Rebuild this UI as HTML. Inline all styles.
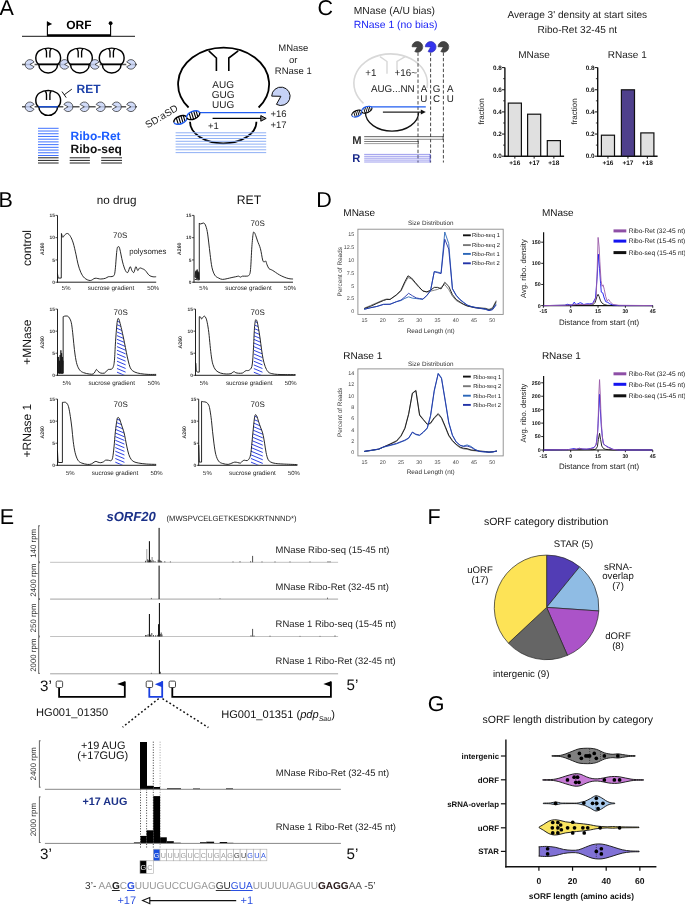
<!DOCTYPE html>
<html><head><meta charset="utf-8"><style>
html,body{margin:0;padding:0;background:#fff;overflow:hidden;width:685px;height:906px;}
svg{display:block;font-family:"Liberation Sans", sans-serif;will-change:transform;text-rendering:geometricPrecision;}
</style></head><body>
<svg width="685" height="906" viewBox="0 0 685 906">
<defs>
<pattern id="hatch" patternUnits="userSpaceOnUse" width="6" height="3.3" patternTransform="rotate(0)">
<line x1="0" y1="0" x2="6" y2="3.3" stroke="#2040e0" stroke-width="0.8"/>
</pattern>
</defs>
<text x="-0.60" y="15.20" font-size="21.5" >A</text>
<line x1="22.00" y1="36.40" x2="135.00" y2="36.40" stroke="#444" stroke-width="1.4" />
<line x1="47.20" y1="35.30" x2="110.80" y2="35.30" stroke="#000" stroke-width="2.2" />
<line x1="47.40" y1="36.00" x2="47.40" y2="21.50" stroke="#000" stroke-width="1.1" />
<path d="M47.4,21.5 L52.2,24 L47.4,26.3 Z" stroke="none" stroke-width="0" fill="#000" />
<line x1="110.60" y1="36.00" x2="110.60" y2="23.00" stroke="#000" stroke-width="1.1" />
<circle cx="110.60" cy="23.20" r="1.90" fill="#000" stroke="none" stroke-width="1" />
<text x="78.80" y="29.20" font-size="12" text-anchor="middle" font-weight="bold" >ORF</text>
<line x1="22.00" y1="64.40" x2="137.00" y2="64.40" stroke="#555" stroke-width="1.5" />
<path d="M29.90,64.40 L34.10,62.07 A4.8,4.8 0 0 1 34.10,66.73 Z" stroke="none" stroke-width="0" fill="#fff" />
<path d="M29.90,64.40 L34.10,62.07 A4.8,4.8 0 1 0 34.10,66.73 Z" stroke="#222" stroke-width="0.7" fill="#c6d2f6" fill-opacity="0.8"/>
<path d="M38.80,64.40 C36.60,63.20 35.80,60.90 35.80,57.80 C35.80,51.50 41.40,48.10 48.20,48.10 C55.00,48.10 60.60,51.50 60.60,57.80 C60.60,60.90 59.80,63.20 57.60,64.40 Z" stroke="#000" stroke-width="1.45" fill="#fff" />
<path d="M38.80,64.40 A9.4,8.6 0 0 0 57.60,64.40 Z" stroke="#000" stroke-width="1.45" fill="#fff" />
<line x1="38.60" y1="64.40" x2="57.80" y2="64.40" stroke="#000" stroke-width="1.3" />
<path d="M45.20,48.80 Q46.50,50.00 46.50,52.00 L46.50,57.60" stroke="#000" stroke-width="1.35" fill="none" />
<path d="M51.20,48.80 Q49.90,50.00 49.90,52.00 L49.90,57.60" stroke="#000" stroke-width="1.35" fill="none" />
<path d="M64.60,64.40 L68.80,62.07 A4.8,4.8 0 0 1 68.80,66.73 Z" stroke="none" stroke-width="0" fill="#fff" />
<path d="M64.60,64.40 L68.80,62.07 A4.8,4.8 0 1 0 68.80,66.73 Z" stroke="#222" stroke-width="0.7" fill="#c6d2f6" fill-opacity="0.8"/>
<path d="M70.50,64.40 C68.30,63.20 67.50,60.90 67.50,57.80 C67.50,51.50 73.10,48.10 79.90,48.10 C86.70,48.10 92.30,51.50 92.30,57.80 C92.30,60.90 91.50,63.20 89.30,64.40 Z" stroke="#000" stroke-width="1.45" fill="#fff" />
<path d="M70.50,64.40 A9.4,8.6 0 0 0 89.30,64.40 Z" stroke="#000" stroke-width="1.45" fill="#fff" />
<line x1="70.30" y1="64.40" x2="89.50" y2="64.40" stroke="#000" stroke-width="1.3" />
<path d="M76.90,48.80 Q78.20,50.00 78.20,52.00 L78.20,57.60" stroke="#000" stroke-width="1.35" fill="none" />
<path d="M82.90,48.80 Q81.60,50.00 81.60,52.00 L81.60,57.60" stroke="#000" stroke-width="1.35" fill="none" />
<path d="M95.00,64.40 L99.20,62.07 A4.8,4.8 0 0 1 99.20,66.73 Z" stroke="none" stroke-width="0" fill="#fff" />
<path d="M95.00,64.40 L99.20,62.07 A4.8,4.8 0 1 0 99.20,66.73 Z" stroke="#222" stroke-width="0.7" fill="#c6d2f6" fill-opacity="0.8"/>
<path d="M102.30,64.40 C100.10,63.20 99.30,60.90 99.30,57.80 C99.30,51.50 104.90,48.10 111.70,48.10 C118.50,48.10 124.10,51.50 124.10,57.80 C124.10,60.90 123.30,63.20 121.10,64.40 Z" stroke="#000" stroke-width="1.45" fill="#fff" />
<path d="M102.30,64.40 A9.4,8.6 0 0 0 121.10,64.40 Z" stroke="#000" stroke-width="1.45" fill="#fff" />
<line x1="102.10" y1="64.40" x2="121.30" y2="64.40" stroke="#000" stroke-width="1.3" />
<path d="M108.70,48.80 Q110.00,50.00 110.00,52.00 L110.00,57.60" stroke="#000" stroke-width="1.35" fill="none" />
<path d="M114.70,48.80 Q113.40,50.00 113.40,52.00 L113.40,57.60" stroke="#000" stroke-width="1.35" fill="none" />
<path d="M130.90,64.40 L126.70,66.73 A4.8,4.8 0 0 1 126.70,62.07 Z" stroke="none" stroke-width="0" fill="#fff" />
<path d="M130.90,64.40 L126.70,66.73 A4.8,4.8 0 1 0 126.70,62.07 Z" stroke="#222" stroke-width="0.7" fill="#c6d2f6" fill-opacity="0.8"/>
<line x1="22.00" y1="106.80" x2="137.00" y2="106.80" stroke="#555" stroke-width="1.5" />
<path d="M29.90,106.80 L34.10,104.47 A4.8,4.8 0 0 1 34.10,109.13 Z" stroke="none" stroke-width="0" fill="#fff" />
<path d="M29.90,106.80 L34.10,104.47 A4.8,4.8 0 1 0 34.10,109.13 Z" stroke="#222" stroke-width="0.7" fill="#c6d2f6" fill-opacity="0.8"/>
<path d="M38.80,106.80 C36.60,105.60 35.80,103.30 35.80,100.20 C35.80,93.90 41.40,90.50 48.20,90.50 C55.00,90.50 60.60,93.90 60.60,100.20 C60.60,103.30 59.80,105.60 57.60,106.80 Z" stroke="#000" stroke-width="1.45" fill="#fff" />
<path d="M38.80,106.80 A9.4,8.6 0 0 0 57.60,106.80 Z" stroke="#000" stroke-width="1.45" fill="#fff" />
<line x1="38.60" y1="106.80" x2="57.80" y2="106.80" stroke="#1f5cf0" stroke-width="1.3" />
<path d="M45.20,91.20 Q46.50,92.40 46.50,94.40 L46.50,100.00" stroke="#000" stroke-width="1.35" fill="none" />
<path d="M51.20,91.20 Q49.90,92.40 49.90,94.40 L49.90,100.00" stroke="#000" stroke-width="1.35" fill="none" />
<path d="M68.10,106.80 L63.90,109.13 A4.8,4.8 0 0 1 63.90,104.47 Z" stroke="none" stroke-width="0" fill="#fff" />
<path d="M68.10,106.80 L63.90,109.13 A4.8,4.8 0 1 0 63.90,104.47 Z" stroke="#222" stroke-width="0.7" fill="#c6d2f6" fill-opacity="0.8"/>
<path d="M84.30,106.80 L80.10,109.13 A4.8,4.8 0 0 1 80.10,104.47 Z" stroke="none" stroke-width="0" fill="#fff" />
<path d="M84.30,106.80 L80.10,109.13 A4.8,4.8 0 1 0 80.10,104.47 Z" stroke="#222" stroke-width="0.7" fill="#c6d2f6" fill-opacity="0.8"/>
<path d="M100.40,106.80 L96.20,109.13 A4.8,4.8 0 0 1 96.20,104.47 Z" stroke="none" stroke-width="0" fill="#fff" />
<path d="M100.40,106.80 L96.20,109.13 A4.8,4.8 0 1 0 96.20,104.47 Z" stroke="#222" stroke-width="0.7" fill="#c6d2f6" fill-opacity="0.8"/>
<path d="M116.50,106.80 L112.30,109.13 A4.8,4.8 0 0 1 112.30,104.47 Z" stroke="none" stroke-width="0" fill="#fff" />
<path d="M116.50,106.80 L112.30,109.13 A4.8,4.8 0 1 0 112.30,104.47 Z" stroke="#222" stroke-width="0.7" fill="#c6d2f6" fill-opacity="0.8"/>
<path d="M130.90,106.80 L126.70,109.13 A4.8,4.8 0 0 1 126.70,104.47 Z" stroke="none" stroke-width="0" fill="#fff" />
<path d="M130.90,106.80 L126.70,109.13 A4.8,4.8 0 1 0 126.70,104.47 Z" stroke="#222" stroke-width="0.7" fill="#c6d2f6" fill-opacity="0.8"/>
<line x1="64.20" y1="94.80" x2="71.80" y2="89.20" stroke="#000" stroke-width="0.9" />
<line x1="62.00" y1="91.60" x2="66.20" y2="97.60" stroke="#000" stroke-width="0.9" />
<text x="76.60" y="92.90" font-size="12" font-weight="bold" fill="#1b3fa8" >RET</text>
<line x1="38.00" y1="128.30" x2="58.60" y2="128.30" stroke="#2a62ff" stroke-width="0.9" />
<line x1="38.00" y1="131.02" x2="58.60" y2="131.02" stroke="#2a62ff" stroke-width="0.9" />
<line x1="38.00" y1="133.74" x2="58.60" y2="133.74" stroke="#2a62ff" stroke-width="0.9" />
<line x1="38.00" y1="136.46" x2="58.60" y2="136.46" stroke="#2a62ff" stroke-width="0.9" />
<line x1="38.00" y1="139.18" x2="58.60" y2="139.18" stroke="#2a62ff" stroke-width="0.9" />
<line x1="38.00" y1="141.90" x2="58.60" y2="141.90" stroke="#2a62ff" stroke-width="0.9" />
<line x1="38.00" y1="144.62" x2="58.60" y2="144.62" stroke="#2a62ff" stroke-width="0.9" />
<line x1="38.00" y1="147.34" x2="58.60" y2="147.34" stroke="#2a62ff" stroke-width="0.9" />
<line x1="38.00" y1="150.06" x2="58.60" y2="150.06" stroke="#2a62ff" stroke-width="0.9" />
<line x1="38.00" y1="152.78" x2="58.60" y2="152.78" stroke="#2a62ff" stroke-width="0.9" />
<line x1="38.00" y1="155.50" x2="58.60" y2="155.50" stroke="#2a62ff" stroke-width="0.9" />
<line x1="38.00" y1="157.80" x2="58.60" y2="157.80" stroke="#222" stroke-width="1.0" />
<line x1="69.70" y1="157.80" x2="89.90" y2="157.80" stroke="#222" stroke-width="1.0" />
<line x1="101.20" y1="157.80" x2="122.00" y2="157.80" stroke="#222" stroke-width="1.0" />
<line x1="38.00" y1="160.40" x2="58.60" y2="160.40" stroke="#222" stroke-width="1.0" />
<line x1="69.70" y1="160.40" x2="89.90" y2="160.40" stroke="#222" stroke-width="1.0" />
<line x1="101.20" y1="160.40" x2="122.00" y2="160.40" stroke="#222" stroke-width="1.0" />
<line x1="38.00" y1="163.00" x2="58.60" y2="163.00" stroke="#222" stroke-width="1.0" />
<line x1="69.70" y1="163.00" x2="89.90" y2="163.00" stroke="#222" stroke-width="1.0" />
<line x1="101.20" y1="163.00" x2="122.00" y2="163.00" stroke="#222" stroke-width="1.0" />
<text x="70.60" y="139.80" font-size="12" font-weight="bold" fill="#1a5cff" >Ribo-Ret</text>
<text x="70.60" y="152.90" font-size="12" font-weight="bold" fill="#111" >Ribo-seq</text>
<path d="M188.6,107.5 A45.5,36.5 0 1 1 258.6,107.5" stroke="#000" stroke-width="1.8" fill="none" />
<path d="M208.8,50.8 L216.4,58 L216.4,71" stroke="#000" stroke-width="1.6" fill="none" />
<path d="M238.2,50.8 L228.8,58 L228.8,71" stroke="#000" stroke-width="1.6" fill="none" />
<text x="223.20" y="87.60" font-size="10" text-anchor="middle" fill="#222" >AUG</text>
<text x="223.20" y="97.90" font-size="10" text-anchor="middle" fill="#222" >GUG</text>
<text x="223.20" y="108.20" font-size="10" text-anchor="middle" fill="#222" >UUG</text>
<path d="M190,121.8 A33.2,21.5 0 0 0 256.4,121.8" stroke="#000" stroke-width="1.8" fill="none" />
<line x1="175.60" y1="132.80" x2="266.20" y2="132.80" stroke="#8fb0f5" stroke-width="1.0" />
<line x1="175.60" y1="135.63" x2="266.20" y2="135.63" stroke="#8fb0f5" stroke-width="1.0" />
<line x1="175.60" y1="138.46" x2="266.20" y2="138.46" stroke="#8fb0f5" stroke-width="1.0" />
<line x1="175.60" y1="141.29" x2="266.20" y2="141.29" stroke="#8fb0f5" stroke-width="1.0" />
<line x1="175.60" y1="144.12" x2="266.20" y2="144.12" stroke="#8fb0f5" stroke-width="1.0" />
<line x1="175.60" y1="146.95" x2="266.20" y2="146.95" stroke="#8fb0f5" stroke-width="1.0" />
<line x1="175.60" y1="149.78" x2="266.20" y2="149.78" stroke="#8fb0f5" stroke-width="1.0" />
<line x1="175.60" y1="152.61" x2="266.20" y2="152.61" stroke="#8fb0f5" stroke-width="1.0" />
<line x1="197.00" y1="112.60" x2="266.00" y2="112.60" stroke="#1f5cf0" stroke-width="1.4" />
<g transform="rotate(-22 180.4 119.9)"><ellipse cx="180.4" cy="119.9" rx="6.9" ry="3.9" fill="#fff" stroke="none"/><line x1="177.4" y1="116.41576599832189" x2="176.8" y2="123.38423400167812" stroke="#000" stroke-width="1.1"/><line x1="179.9" y1="116.01477278036353" x2="179.3" y2="123.78522721963648" stroke="#000" stroke-width="1.1"/><line x1="182.4" y1="116.15077197611998" x2="181.8" y2="123.64922802388003" stroke="#000" stroke-width="1.1"/><line x1="184.70000000000002" y1="116.80572514763091" x2="184.10000000000002" y2="122.9942748523691" stroke="#000" stroke-width="1.1"/><path d="M173.5,119.9 A6.9,3.9 0 0 1 187.3,119.9" fill="none" stroke="#000" stroke-width="1.4"/><path d="M173.5,119.9 A6.9,3.9 0 0 0 187.3,119.9" fill="none" stroke="#1f5cf0" stroke-width="1.4"/></g>
<g transform="rotate(-22 193.2 115.2)"><ellipse cx="193.2" cy="115.2" rx="6.9" ry="3.9" fill="#fff" stroke="none"/><line x1="190.2" y1="111.71576599832188" x2="189.6" y2="118.68423400167812" stroke="#000" stroke-width="1.1"/><line x1="192.7" y1="111.31477278036353" x2="192.1" y2="119.08522721963648" stroke="#000" stroke-width="1.1"/><line x1="195.2" y1="111.45077197611998" x2="194.6" y2="118.94922802388002" stroke="#000" stroke-width="1.1"/><line x1="197.5" y1="112.1057251476309" x2="196.9" y2="118.2942748523691" stroke="#000" stroke-width="1.1"/><path d="M186.29999999999998,115.2 A6.9,3.9 0 0 1 200.1,115.2" fill="none" stroke="#1f5cf0" stroke-width="1.4"/><path d="M186.29999999999998,115.2 A6.9,3.9 0 0 0 200.1,115.2" fill="none" stroke="#000" stroke-width="1.4"/></g>
<text x="178.80" y="110.00" font-size="10" text-anchor="end" fill="#222" transform="rotate(-31 178.80 110.00)" >SD:aSD</text>
<line x1="212.60" y1="118.40" x2="262.00" y2="118.40" stroke="#000" stroke-width="1.1" />
<path d="M260.8,115.6 L266.2,118.4 L260.8,121.2 Z" stroke="#000" stroke-width="1.0" fill="#888" />
<text x="208.00" y="128.50" font-size="9.5" fill="#222" >+1</text>
<text x="270.50" y="116.90" font-size="9.5" fill="#222" >+16</text>
<text x="270.50" y="127.90" font-size="9.5" fill="#222" >+17</text>
<text x="293.30" y="51.00" font-size="9.5" text-anchor="middle" fill="#222" >MNase</text>
<text x="293.30" y="62.80" font-size="9.5" text-anchor="middle" fill="#222" >or</text>
<text x="293.30" y="73.60" font-size="9.5" text-anchor="middle" fill="#222" >RNase 1</text>
<path d="M280.90,96.30 L276.44,104.35 A9.2,9.2 0 1 0 271.70,96.14 Z" stroke="#111" stroke-width="1.0" fill="#c6d2f6" />
<text x="-1.40" y="206.70" font-size="21.5" >B</text>
<text x="116.60" y="203.90" font-size="11.7" text-anchor="middle" fill="#111" >no drug</text>
<text x="249.00" y="203.80" font-size="12.2" text-anchor="middle" fill="#111" >RET</text>
<text x="31.00" y="248.00" font-size="12" text-anchor="middle" fill="#111" transform="rotate(-90 31.00 248.00)" >control</text>
<text x="31.00" y="342.20" font-size="12" text-anchor="middle" fill="#111" transform="rotate(-90 31.00 342.20)" >+MNase</text>
<text x="31.00" y="430.60" font-size="12" text-anchor="middle" fill="#111" transform="rotate(-90 31.00 430.60)" >+RNase 1</text>
<line x1="57.50" y1="215.40" x2="57.50" y2="282.70" stroke="#222" stroke-width="1.0" />
<line x1="57.00" y1="282.20" x2="156.20" y2="282.20" stroke="#222" stroke-width="1.0" />
<line x1="55.50" y1="215.40" x2="57.50" y2="215.40" stroke="#222" stroke-width="0.8" />
<text x="54.90" y="217.10" font-size="4.8" text-anchor="end" font-weight="bold" fill="#333" >15</text>
<line x1="55.50" y1="237.67" x2="57.50" y2="237.67" stroke="#222" stroke-width="0.8" />
<text x="54.90" y="239.37" font-size="4.8" text-anchor="end" font-weight="bold" fill="#333" >10</text>
<line x1="55.50" y1="259.93" x2="57.50" y2="259.93" stroke="#222" stroke-width="0.8" />
<text x="54.90" y="261.63" font-size="4.8" text-anchor="end" font-weight="bold" fill="#333" >5</text>
<line x1="55.50" y1="282.20" x2="57.50" y2="282.20" stroke="#222" stroke-width="0.8" />
<text x="54.90" y="283.90" font-size="4.8" text-anchor="end" font-weight="bold" fill="#333" >0</text>
<text x="44.50" y="248.80" font-size="5.2" text-anchor="middle" font-weight="bold" fill="#333" transform="rotate(-90 44.50 248.80)" >A260</text>
<path d="M57.46,273.70 L58.22,278.07 L61.26,278.07 L61.45,233.47  L61.45,233.47 C61.67,234.10 62.24,237.01 62.77,237.26 C63.31,237.52 63.88,235.62 64.67,234.99 C65.46,234.35 66.57,233.25 67.52,233.47 C68.47,233.69 69.42,234.73 70.37,236.32 C71.32,237.90 72.26,239.89 73.21,242.96 C74.16,246.03 75.27,251.25 76.06,254.72 C76.85,258.20 77.17,260.89 77.96,263.83 C78.75,266.78 79.70,270.00 80.80,272.38 C81.91,274.75 83.02,276.71 84.60,278.07 C86.18,279.43 88.55,280.50 90.29,280.54 C92.03,280.57 93.30,278.51 95.04,278.26 C96.78,278.01 98.99,279.02 100.73,279.02 C102.47,279.02 104.21,278.64 105.48,278.26 C106.74,277.88 107.06,277.09 108.32,276.74 C109.59,276.39 111.96,276.99 113.07,276.17 C114.18,275.35 114.33,276.08 114.97,271.81 C115.60,267.54 116.33,254.72 116.86,250.55 C117.40,246.37 117.72,247.07 118.19,246.75 C118.67,246.44 118.98,246.12 119.71,248.65 C120.44,251.18 121.61,258.30 122.56,261.94 C123.51,265.57 124.52,268.74 125.41,270.48 C126.29,272.22 127.08,273.01 127.87,272.38 C128.66,271.74 129.45,266.93 130.15,266.68 C130.85,266.43 131.42,269.91 132.05,270.86 C132.68,271.81 133.31,273.07 133.95,272.38 C134.58,271.68 135.21,267.00 135.84,266.68 C136.48,266.37 137.11,270.26 137.74,270.48 C138.37,270.70 138.85,268.29 139.64,268.01 C140.43,267.73 141.54,268.36 142.49,268.77 C143.44,269.18 144.23,269.40 145.33,270.48 C146.44,271.55 147.86,274.18 149.13,275.22 C150.39,276.27 151.75,276.49 152.92,276.74 C154.10,276.99 155.61,276.74 156.15,276.74" stroke="#111" stroke-width="0.9" fill="none" />
<text x="113.00" y="238.20" font-size="8" fill="#222" >70S</text>
<text x="61.80" y="290.40" font-size="6.0" fill="#222" >5%</text>
<text x="87.80" y="290.40" font-size="6.3" fill="#222" >sucrose gradient</text>
<text x="147.20" y="290.40" font-size="6.0" fill="#222" >50%</text>
<text x="129.20" y="254.00" font-size="7.8" fill="#222" >polysomes</text>
<line x1="194.00" y1="215.40" x2="194.00" y2="282.70" stroke="#222" stroke-width="1.0" />
<line x1="193.50" y1="282.20" x2="293.00" y2="282.20" stroke="#222" stroke-width="1.0" />
<line x1="192.00" y1="215.40" x2="194.00" y2="215.40" stroke="#222" stroke-width="0.8" />
<text x="191.40" y="217.10" font-size="4.8" text-anchor="end" font-weight="bold" fill="#333" >15</text>
<line x1="192.00" y1="237.67" x2="194.00" y2="237.67" stroke="#222" stroke-width="0.8" />
<text x="191.40" y="239.37" font-size="4.8" text-anchor="end" font-weight="bold" fill="#333" >10</text>
<line x1="192.00" y1="259.93" x2="194.00" y2="259.93" stroke="#222" stroke-width="0.8" />
<text x="191.40" y="261.63" font-size="4.8" text-anchor="end" font-weight="bold" fill="#333" >5</text>
<line x1="192.00" y1="282.20" x2="194.00" y2="282.20" stroke="#222" stroke-width="0.8" />
<text x="191.40" y="283.90" font-size="4.8" text-anchor="end" font-weight="bold" fill="#333" >0</text>
<text x="181.00" y="248.80" font-size="5.2" text-anchor="middle" font-weight="bold" fill="#333" transform="rotate(-90 181.00 248.80)" >A260</text>
<path d="M194.74,279.40 L199.29,279.97 L199.29,223.03  L199.29,223.03 C199.51,223.19 199.93,223.98 200.62,223.98 C201.32,223.98 202.68,222.87 203.47,223.03 C204.26,223.19 204.73,223.50 205.37,224.93 C206.00,226.35 206.69,228.57 207.26,231.57 C207.83,234.58 208.31,239.16 208.78,242.96 C209.26,246.75 209.57,250.23 210.11,254.35 C210.65,258.46 211.22,264.15 212.01,267.63 C212.80,271.11 213.75,273.48 214.86,275.22 C215.96,276.96 217.39,277.37 218.65,278.07 C219.92,278.76 221.02,279.30 222.45,279.40 C223.87,279.49 225.61,278.95 227.19,278.64 C228.77,278.32 230.51,277.82 231.94,277.50 C233.36,277.18 234.63,276.96 235.73,276.74 C236.84,276.52 237.79,276.11 238.58,276.17 C239.37,276.23 239.84,277.12 240.48,277.12 C241.11,277.12 241.43,276.33 242.38,276.17 C243.32,276.01 245.06,276.33 246.17,276.17 C247.28,276.01 248.29,276.33 249.02,275.22 C249.75,274.11 250.06,274.27 250.54,269.53 C251.01,264.78 251.42,252.76 251.86,246.75 C252.31,240.74 252.78,235.84 253.19,233.47 C253.60,231.10 253.92,232.20 254.33,232.52 C254.74,232.84 255.12,233.94 255.66,235.37 C256.20,236.79 256.77,238.85 257.56,241.06 C258.35,243.27 259.55,245.49 260.41,248.65 C261.26,251.81 262.05,257.82 262.68,260.04 C263.32,262.25 263.69,261.78 264.20,261.94 C264.71,262.09 265.24,260.51 265.72,260.99 C266.19,261.46 266.51,263.52 267.05,264.78 C267.59,266.05 268.31,267.79 268.95,268.58 C269.58,269.37 270.21,269.21 270.84,269.53 C271.48,269.84 271.95,270.00 272.74,270.48 C273.53,270.95 274.48,271.65 275.59,272.38 C276.70,273.10 277.96,274.05 279.38,274.84 C280.81,275.63 282.55,276.49 284.13,277.12 C285.71,277.75 287.39,278.32 288.87,278.64 C290.36,278.95 292.35,278.95 293.05,279.02" stroke="#111" stroke-width="0.9" fill="none" />
<path d="M194.93,277.12 L195.50,271.43 L195.88,278.07 L196.26,270.48 L196.83,279.02 L197.21,269.53 L197.58,278.64 L197.96,271.43 L198.34,279.40 L198.72,272.38 L199.10,279.40" stroke="#111" stroke-width="0.8" fill="none" />
<text x="250.50" y="226.30" font-size="8" fill="#222" >70S</text>
<text x="199.30" y="290.40" font-size="6.0" fill="#222" >5%</text>
<text x="225.30" y="290.40" font-size="6.3" fill="#222" >sucrose gradient</text>
<text x="284.10" y="290.40" font-size="6.0" fill="#222" >50%</text>
<line x1="57.50" y1="309.10" x2="57.50" y2="375.80" stroke="#222" stroke-width="1.0" />
<line x1="57.00" y1="375.30" x2="156.20" y2="375.30" stroke="#222" stroke-width="1.0" />
<line x1="55.50" y1="309.10" x2="57.50" y2="309.10" stroke="#222" stroke-width="0.8" />
<text x="54.90" y="310.80" font-size="4.8" text-anchor="end" font-weight="bold" fill="#333" >15</text>
<line x1="55.50" y1="331.17" x2="57.50" y2="331.17" stroke="#222" stroke-width="0.8" />
<text x="54.90" y="332.87" font-size="4.8" text-anchor="end" font-weight="bold" fill="#333" >10</text>
<line x1="55.50" y1="353.23" x2="57.50" y2="353.23" stroke="#222" stroke-width="0.8" />
<text x="54.90" y="354.93" font-size="4.8" text-anchor="end" font-weight="bold" fill="#333" >5</text>
<line x1="55.50" y1="375.30" x2="57.50" y2="375.30" stroke="#222" stroke-width="0.8" />
<text x="54.90" y="377.00" font-size="4.8" text-anchor="end" font-weight="bold" fill="#333" >0</text>
<text x="44.50" y="342.20" font-size="5.2" text-anchor="middle" font-weight="bold" fill="#333" transform="rotate(-90 44.50 342.20)" >A260</text>
<clipPath id="clip40_300"><path d="M57.46,356.94 L57.84,373.07 L63.15,373.07 L63.15,316.70  L63.15,316.70 C63.41,316.61 63.95,316.23 64.67,316.13 C65.40,316.04 66.73,315.82 67.52,316.13 C68.31,316.45 68.78,316.92 69.42,318.03 C70.05,319.14 70.78,320.40 71.32,322.77 C71.85,325.15 72.23,328.78 72.64,332.26 C73.05,335.74 73.37,339.86 73.78,343.65 C74.19,347.45 74.57,351.56 75.11,355.04 C75.65,358.52 76.22,362.00 77.01,364.53 C77.80,367.06 78.75,368.86 79.86,370.22 C80.96,371.58 82.07,372.06 83.65,372.69 C85.23,373.32 87.76,373.80 89.35,374.02 C90.93,374.24 92.19,374.40 93.14,374.02 C94.09,373.64 94.50,372.50 95.04,371.74 C95.58,370.98 95.89,369.56 96.37,369.46 C96.84,369.37 97.16,370.57 97.89,371.17 C98.61,371.77 99.63,372.75 100.73,373.07 C101.84,373.39 103.58,373.39 104.53,373.07 C105.48,372.75 105.79,371.77 106.43,371.17 C107.06,370.57 107.53,369.78 108.32,369.46 C109.11,369.15 110.38,369.62 111.17,369.27 C111.96,368.93 112.53,368.80 113.07,367.38 C113.61,365.95 113.99,365.00 114.40,360.73 C114.81,356.46 115.12,347.76 115.54,341.75 C115.95,335.74 116.49,328.47 116.86,324.67 C117.24,320.88 117.50,319.93 117.81,318.98 C118.13,318.03 118.45,318.50 118.76,318.98 C119.08,319.45 119.24,320.09 119.71,321.83 C120.19,323.57 120.98,326.73 121.61,329.42 C122.24,332.11 122.87,334.95 123.51,337.96 C124.14,340.96 124.77,344.28 125.41,347.45 C126.04,350.61 126.67,354.09 127.30,356.94 C127.94,359.78 128.57,362.47 129.20,364.53 C129.83,366.58 130.15,368.01 131.10,369.27 C132.05,370.54 133.31,371.39 134.89,372.12 C136.48,372.85 138.37,373.26 140.59,373.64 C142.80,374.02 145.59,374.27 148.18,374.40 C150.77,374.52 154.82,374.40 156.15,374.40 L156.2,380.3 L57.5,380.3 Z"/></clipPath>
<clipPath id="clip40_300r"><rect x="116.86" y="304.1" width="8.92" height="70.60"/></clipPath>
<g clip-path="url(#clip40_300r)"><g clip-path="url(#clip40_300)"><line x1="116.86" y1="372.10" x2="125.78" y2="375.85" stroke="#2438e0" stroke-width="0.95"/><line x1="116.86" y1="368.45" x2="125.78" y2="372.20" stroke="#2438e0" stroke-width="0.95"/><line x1="116.86" y1="364.80" x2="125.78" y2="368.55" stroke="#2438e0" stroke-width="0.95"/><line x1="116.86" y1="361.15" x2="125.78" y2="364.90" stroke="#2438e0" stroke-width="0.95"/><line x1="116.86" y1="357.50" x2="125.78" y2="361.25" stroke="#2438e0" stroke-width="0.95"/><line x1="116.86" y1="353.85" x2="125.78" y2="357.60" stroke="#2438e0" stroke-width="0.95"/><line x1="116.86" y1="350.20" x2="125.78" y2="353.95" stroke="#2438e0" stroke-width="0.95"/><line x1="116.86" y1="346.55" x2="125.78" y2="350.30" stroke="#2438e0" stroke-width="0.95"/><line x1="116.86" y1="342.90" x2="125.78" y2="346.65" stroke="#2438e0" stroke-width="0.95"/><line x1="116.86" y1="339.25" x2="125.78" y2="343.00" stroke="#2438e0" stroke-width="0.95"/><line x1="116.86" y1="335.60" x2="125.78" y2="339.35" stroke="#2438e0" stroke-width="0.95"/><line x1="116.86" y1="331.95" x2="125.78" y2="335.70" stroke="#2438e0" stroke-width="0.95"/><line x1="116.86" y1="328.30" x2="125.78" y2="332.05" stroke="#2438e0" stroke-width="0.95"/><line x1="116.86" y1="324.65" x2="125.78" y2="328.40" stroke="#2438e0" stroke-width="0.95"/><line x1="116.86" y1="321.00" x2="125.78" y2="324.75" stroke="#2438e0" stroke-width="0.95"/><line x1="116.86" y1="317.35" x2="125.78" y2="321.10" stroke="#2438e0" stroke-width="0.95"/><line x1="116.86" y1="313.70" x2="125.78" y2="317.45" stroke="#2438e0" stroke-width="0.95"/><line x1="116.86" y1="310.05" x2="125.78" y2="313.80" stroke="#2438e0" stroke-width="0.95"/><line x1="116.86" y1="306.40" x2="125.78" y2="310.15" stroke="#2438e0" stroke-width="0.95"/><line x1="116.86" y1="302.75" x2="125.78" y2="306.50" stroke="#2438e0" stroke-width="0.95"/></g></g>
<path d="M57.46,356.94 L57.84,373.07 L63.15,373.07 L63.15,316.70  L63.15,316.70 C63.41,316.61 63.95,316.23 64.67,316.13 C65.40,316.04 66.73,315.82 67.52,316.13 C68.31,316.45 68.78,316.92 69.42,318.03 C70.05,319.14 70.78,320.40 71.32,322.77 C71.85,325.15 72.23,328.78 72.64,332.26 C73.05,335.74 73.37,339.86 73.78,343.65 C74.19,347.45 74.57,351.56 75.11,355.04 C75.65,358.52 76.22,362.00 77.01,364.53 C77.80,367.06 78.75,368.86 79.86,370.22 C80.96,371.58 82.07,372.06 83.65,372.69 C85.23,373.32 87.76,373.80 89.35,374.02 C90.93,374.24 92.19,374.40 93.14,374.02 C94.09,373.64 94.50,372.50 95.04,371.74 C95.58,370.98 95.89,369.56 96.37,369.46 C96.84,369.37 97.16,370.57 97.89,371.17 C98.61,371.77 99.63,372.75 100.73,373.07 C101.84,373.39 103.58,373.39 104.53,373.07 C105.48,372.75 105.79,371.77 106.43,371.17 C107.06,370.57 107.53,369.78 108.32,369.46 C109.11,369.15 110.38,369.62 111.17,369.27 C111.96,368.93 112.53,368.80 113.07,367.38 C113.61,365.95 113.99,365.00 114.40,360.73 C114.81,356.46 115.12,347.76 115.54,341.75 C115.95,335.74 116.49,328.47 116.86,324.67 C117.24,320.88 117.50,319.93 117.81,318.98 C118.13,318.03 118.45,318.50 118.76,318.98 C119.08,319.45 119.24,320.09 119.71,321.83 C120.19,323.57 120.98,326.73 121.61,329.42 C122.24,332.11 122.87,334.95 123.51,337.96 C124.14,340.96 124.77,344.28 125.41,347.45 C126.04,350.61 126.67,354.09 127.30,356.94 C127.94,359.78 128.57,362.47 129.20,364.53 C129.83,366.58 130.15,368.01 131.10,369.27 C132.05,370.54 133.31,371.39 134.89,372.12 C136.48,372.85 138.37,373.26 140.59,373.64 C142.80,374.02 145.59,374.27 148.18,374.40 C150.77,374.52 154.82,374.40 156.15,374.40" stroke="#111" stroke-width="0.9" fill="none" />
<path d="M57.65,362.63 L58.22,373.07 L58.60,356.94 L58.98,373.07 L59.36,360.73 L59.74,373.64 L60.12,355.04 L60.50,373.07 L60.88,350.29 L61.26,373.64 L61.64,353.14 L62.02,373.07 L62.40,356.94 L62.77,373.64 L63.15,360.73" stroke="#111" stroke-width="0.8" fill="none" />
<text x="113.60" y="315.20" font-size="8" fill="#222" >70S</text>
<text x="62.40" y="384.50" font-size="6.0" fill="#222" >5%</text>
<text x="88.40" y="384.50" font-size="6.3" fill="#222" >sucrose gradient</text>
<text x="147.80" y="384.50" font-size="6.0" fill="#222" >50%</text>
<line x1="195.50" y1="309.10" x2="195.50" y2="375.80" stroke="#222" stroke-width="1.0" />
<line x1="195.00" y1="375.30" x2="295.50" y2="375.30" stroke="#222" stroke-width="1.0" />
<line x1="193.50" y1="309.10" x2="195.50" y2="309.10" stroke="#222" stroke-width="0.8" />
<text x="192.90" y="310.80" font-size="4.8" text-anchor="end" font-weight="bold" fill="#333" >15</text>
<line x1="193.50" y1="331.17" x2="195.50" y2="331.17" stroke="#222" stroke-width="0.8" />
<text x="192.90" y="332.87" font-size="4.8" text-anchor="end" font-weight="bold" fill="#333" >10</text>
<line x1="193.50" y1="353.23" x2="195.50" y2="353.23" stroke="#222" stroke-width="0.8" />
<text x="192.90" y="354.93" font-size="4.8" text-anchor="end" font-weight="bold" fill="#333" >5</text>
<line x1="193.50" y1="375.30" x2="195.50" y2="375.30" stroke="#222" stroke-width="0.8" />
<text x="192.90" y="377.00" font-size="4.8" text-anchor="end" font-weight="bold" fill="#333" >0</text>
<text x="182.50" y="342.20" font-size="5.2" text-anchor="middle" font-weight="bold" fill="#333" transform="rotate(-90 182.50 342.20)" >A260</text>
<clipPath id="clip175_300"><path d="M195.50,362.63 L195.88,363.58 L196.26,371.17 L197.77,372.12 L199.29,372.12 L199.29,316.70  L199.29,316.70 C199.51,316.76 200.24,316.70 200.62,317.08 C201.00,317.46 201.16,318.98 201.57,318.98 C201.98,318.98 202.61,317.56 203.09,317.08 C203.56,316.61 203.94,315.97 204.42,316.13 C204.89,316.29 205.46,316.92 205.94,318.03 C206.41,319.14 206.79,320.40 207.26,322.77 C207.74,325.15 208.31,328.47 208.78,332.26 C209.26,336.06 209.67,341.44 210.11,345.55 C210.55,349.66 210.97,353.77 211.44,356.94 C211.91,360.10 212.23,362.31 212.96,364.53 C213.69,366.74 214.54,368.80 215.80,370.22 C217.07,371.65 218.81,372.44 220.55,373.07 C222.29,373.70 224.50,373.92 226.24,374.02 C227.98,374.11 229.88,373.95 230.99,373.64 C232.09,373.32 232.32,372.44 232.89,372.12 C233.46,371.80 233.93,371.65 234.40,371.74 C234.88,371.84 235.04,372.44 235.73,372.69 C236.43,372.94 237.47,373.20 238.58,373.26 C239.69,373.32 241.43,373.32 242.38,373.07 C243.32,372.82 243.64,372.15 244.27,371.74 C244.91,371.33 245.38,370.85 246.17,370.60 C246.96,370.35 248.07,370.92 249.02,370.22 C249.97,369.53 251.17,369.27 251.86,366.43 C252.56,363.58 252.78,359.15 253.19,353.14 C253.60,347.13 253.98,335.74 254.33,330.37 C254.68,324.99 254.96,322.62 255.28,320.88 C255.60,319.14 255.91,319.77 256.23,319.93 C256.55,320.09 256.80,320.40 257.18,321.83 C257.56,323.25 258.03,325.78 258.51,328.47 C258.98,331.16 259.52,334.48 260.03,337.96 C260.53,341.44 261.04,345.87 261.54,349.35 C262.05,352.82 262.46,355.99 263.06,358.83 C263.66,361.68 264.33,364.28 265.15,366.43 C265.97,368.58 266.89,370.54 268.00,371.74 C269.10,372.94 270.21,373.20 271.79,373.64 C273.37,374.08 275.27,374.24 277.49,374.40 C279.70,374.56 282.07,374.56 285.08,374.59 C288.08,374.62 293.78,374.59 295.52,374.59 L295.5,380.3 L195.5,380.3 Z"/></clipPath>
<clipPath id="clip175_300r"><rect x="253.57" y="304.1" width="9.11" height="70.60"/></clipPath>
<g clip-path="url(#clip175_300r)"><g clip-path="url(#clip175_300)"><line x1="253.57" y1="372.10" x2="262.68" y2="375.93" stroke="#2438e0" stroke-width="0.95"/><line x1="253.57" y1="368.45" x2="262.68" y2="372.28" stroke="#2438e0" stroke-width="0.95"/><line x1="253.57" y1="364.80" x2="262.68" y2="368.63" stroke="#2438e0" stroke-width="0.95"/><line x1="253.57" y1="361.15" x2="262.68" y2="364.98" stroke="#2438e0" stroke-width="0.95"/><line x1="253.57" y1="357.50" x2="262.68" y2="361.33" stroke="#2438e0" stroke-width="0.95"/><line x1="253.57" y1="353.85" x2="262.68" y2="357.68" stroke="#2438e0" stroke-width="0.95"/><line x1="253.57" y1="350.20" x2="262.68" y2="354.03" stroke="#2438e0" stroke-width="0.95"/><line x1="253.57" y1="346.55" x2="262.68" y2="350.38" stroke="#2438e0" stroke-width="0.95"/><line x1="253.57" y1="342.90" x2="262.68" y2="346.73" stroke="#2438e0" stroke-width="0.95"/><line x1="253.57" y1="339.25" x2="262.68" y2="343.08" stroke="#2438e0" stroke-width="0.95"/><line x1="253.57" y1="335.60" x2="262.68" y2="339.43" stroke="#2438e0" stroke-width="0.95"/><line x1="253.57" y1="331.95" x2="262.68" y2="335.78" stroke="#2438e0" stroke-width="0.95"/><line x1="253.57" y1="328.30" x2="262.68" y2="332.13" stroke="#2438e0" stroke-width="0.95"/><line x1="253.57" y1="324.65" x2="262.68" y2="328.48" stroke="#2438e0" stroke-width="0.95"/><line x1="253.57" y1="321.00" x2="262.68" y2="324.83" stroke="#2438e0" stroke-width="0.95"/><line x1="253.57" y1="317.35" x2="262.68" y2="321.18" stroke="#2438e0" stroke-width="0.95"/><line x1="253.57" y1="313.70" x2="262.68" y2="317.53" stroke="#2438e0" stroke-width="0.95"/><line x1="253.57" y1="310.05" x2="262.68" y2="313.88" stroke="#2438e0" stroke-width="0.95"/><line x1="253.57" y1="306.40" x2="262.68" y2="310.23" stroke="#2438e0" stroke-width="0.95"/><line x1="253.57" y1="302.75" x2="262.68" y2="306.58" stroke="#2438e0" stroke-width="0.95"/></g></g>
<path d="M195.50,362.63 L195.88,363.58 L196.26,371.17 L197.77,372.12 L199.29,372.12 L199.29,316.70  L199.29,316.70 C199.51,316.76 200.24,316.70 200.62,317.08 C201.00,317.46 201.16,318.98 201.57,318.98 C201.98,318.98 202.61,317.56 203.09,317.08 C203.56,316.61 203.94,315.97 204.42,316.13 C204.89,316.29 205.46,316.92 205.94,318.03 C206.41,319.14 206.79,320.40 207.26,322.77 C207.74,325.15 208.31,328.47 208.78,332.26 C209.26,336.06 209.67,341.44 210.11,345.55 C210.55,349.66 210.97,353.77 211.44,356.94 C211.91,360.10 212.23,362.31 212.96,364.53 C213.69,366.74 214.54,368.80 215.80,370.22 C217.07,371.65 218.81,372.44 220.55,373.07 C222.29,373.70 224.50,373.92 226.24,374.02 C227.98,374.11 229.88,373.95 230.99,373.64 C232.09,373.32 232.32,372.44 232.89,372.12 C233.46,371.80 233.93,371.65 234.40,371.74 C234.88,371.84 235.04,372.44 235.73,372.69 C236.43,372.94 237.47,373.20 238.58,373.26 C239.69,373.32 241.43,373.32 242.38,373.07 C243.32,372.82 243.64,372.15 244.27,371.74 C244.91,371.33 245.38,370.85 246.17,370.60 C246.96,370.35 248.07,370.92 249.02,370.22 C249.97,369.53 251.17,369.27 251.86,366.43 C252.56,363.58 252.78,359.15 253.19,353.14 C253.60,347.13 253.98,335.74 254.33,330.37 C254.68,324.99 254.96,322.62 255.28,320.88 C255.60,319.14 255.91,319.77 256.23,319.93 C256.55,320.09 256.80,320.40 257.18,321.83 C257.56,323.25 258.03,325.78 258.51,328.47 C258.98,331.16 259.52,334.48 260.03,337.96 C260.53,341.44 261.04,345.87 261.54,349.35 C262.05,352.82 262.46,355.99 263.06,358.83 C263.66,361.68 264.33,364.28 265.15,366.43 C265.97,368.58 266.89,370.54 268.00,371.74 C269.10,372.94 270.21,373.20 271.79,373.64 C273.37,374.08 275.27,374.24 277.49,374.40 C279.70,374.56 282.07,374.56 285.08,374.59 C288.08,374.62 293.78,374.59 295.52,374.59" stroke="#111" stroke-width="0.9" fill="none" />
<text x="250.50" y="315.20" font-size="8" fill="#222" >70S</text>
<text x="199.70" y="384.50" font-size="6.0" fill="#222" >5%</text>
<text x="225.90" y="384.50" font-size="6.3" fill="#222" >sucrose gradient</text>
<text x="284.70" y="384.50" font-size="6.0" fill="#222" >50%</text>
<line x1="57.50" y1="399.10" x2="57.50" y2="465.80" stroke="#222" stroke-width="1.0" />
<line x1="57.00" y1="465.30" x2="156.20" y2="465.30" stroke="#222" stroke-width="1.0" />
<line x1="55.50" y1="399.10" x2="57.50" y2="399.10" stroke="#222" stroke-width="0.8" />
<text x="54.90" y="400.80" font-size="4.8" text-anchor="end" font-weight="bold" fill="#333" >15</text>
<line x1="55.50" y1="421.17" x2="57.50" y2="421.17" stroke="#222" stroke-width="0.8" />
<text x="54.90" y="422.87" font-size="4.8" text-anchor="end" font-weight="bold" fill="#333" >10</text>
<line x1="55.50" y1="443.23" x2="57.50" y2="443.23" stroke="#222" stroke-width="0.8" />
<text x="54.90" y="444.93" font-size="4.8" text-anchor="end" font-weight="bold" fill="#333" >5</text>
<line x1="55.50" y1="465.30" x2="57.50" y2="465.30" stroke="#222" stroke-width="0.8" />
<text x="54.90" y="467.00" font-size="4.8" text-anchor="end" font-weight="bold" fill="#333" >0</text>
<text x="44.50" y="432.20" font-size="5.2" text-anchor="middle" font-weight="bold" fill="#333" transform="rotate(-90 44.50 432.20)" >A260</text>
<clipPath id="clip40_390"><path d="M57.46,450.73 L58.03,462.12 L58.98,462.50 L62.40,462.50 L62.40,402.34  L62.40,402.34 C62.62,402.34 63.19,402.34 63.72,402.34 C64.26,402.34 64.99,402.02 65.62,402.34 C66.25,402.65 66.98,403.29 67.52,404.23 C68.06,405.18 68.37,405.97 68.85,408.03 C69.32,410.09 69.86,413.25 70.37,416.57 C70.87,419.89 71.41,423.85 71.88,427.96 C72.36,432.07 72.68,437.13 73.21,441.24 C73.75,445.36 74.32,449.47 75.11,452.63 C75.90,455.79 76.85,458.48 77.96,460.22 C79.06,461.96 80.17,462.37 81.75,463.07 C83.34,463.76 85.87,464.24 87.45,464.40 C89.03,464.56 90.14,464.40 91.24,464.02 C92.35,463.64 93.30,462.56 94.09,462.12 C94.88,461.68 95.36,461.36 95.99,461.36 C96.62,461.36 97.09,461.90 97.89,462.12 C98.68,462.34 99.78,462.75 100.73,462.69 C101.68,462.63 102.79,462.15 103.58,461.74 C104.37,461.33 104.69,460.48 105.48,460.22 C106.27,459.97 107.38,460.16 108.32,460.22 C109.27,460.29 110.44,461.08 111.17,460.60 C111.90,460.13 112.21,459.65 112.69,457.38 C113.16,455.10 113.57,451.21 114.02,446.94 C114.46,442.67 114.87,436.18 115.35,431.75 C115.82,427.33 116.45,422.74 116.86,420.37 C117.28,417.99 117.40,417.84 117.81,417.52 C118.22,417.20 118.86,417.68 119.33,418.47 C119.81,419.26 120.12,420.68 120.66,422.26 C121.20,423.85 121.99,426.22 122.56,427.96 C123.13,429.70 123.60,430.80 124.08,432.70 C124.55,434.60 124.93,436.97 125.41,439.35 C125.88,441.72 126.35,444.41 126.92,446.94 C127.49,449.47 128.13,452.47 128.82,454.53 C129.52,456.58 130.24,458.07 131.10,459.27 C131.95,460.48 132.68,461.11 133.95,461.74 C135.21,462.37 136.63,462.69 138.69,463.07 C140.75,463.45 143.37,463.80 146.28,464.02 C149.19,464.24 154.51,464.33 156.15,464.40 L156.2,470.3 L57.5,470.3 Z"/></clipPath>
<clipPath id="clip40_390r"><rect x="115.16" y="394.1" width="9.49" height="70.60"/></clipPath>
<g clip-path="url(#clip40_390r)"><g clip-path="url(#clip40_390)"><line x1="115.16" y1="462.10" x2="124.65" y2="466.09" stroke="#2438e0" stroke-width="0.95"/><line x1="115.16" y1="458.45" x2="124.65" y2="462.44" stroke="#2438e0" stroke-width="0.95"/><line x1="115.16" y1="454.80" x2="124.65" y2="458.79" stroke="#2438e0" stroke-width="0.95"/><line x1="115.16" y1="451.15" x2="124.65" y2="455.14" stroke="#2438e0" stroke-width="0.95"/><line x1="115.16" y1="447.50" x2="124.65" y2="451.49" stroke="#2438e0" stroke-width="0.95"/><line x1="115.16" y1="443.85" x2="124.65" y2="447.84" stroke="#2438e0" stroke-width="0.95"/><line x1="115.16" y1="440.20" x2="124.65" y2="444.19" stroke="#2438e0" stroke-width="0.95"/><line x1="115.16" y1="436.55" x2="124.65" y2="440.54" stroke="#2438e0" stroke-width="0.95"/><line x1="115.16" y1="432.90" x2="124.65" y2="436.89" stroke="#2438e0" stroke-width="0.95"/><line x1="115.16" y1="429.25" x2="124.65" y2="433.24" stroke="#2438e0" stroke-width="0.95"/><line x1="115.16" y1="425.60" x2="124.65" y2="429.59" stroke="#2438e0" stroke-width="0.95"/><line x1="115.16" y1="421.95" x2="124.65" y2="425.94" stroke="#2438e0" stroke-width="0.95"/><line x1="115.16" y1="418.30" x2="124.65" y2="422.29" stroke="#2438e0" stroke-width="0.95"/><line x1="115.16" y1="414.65" x2="124.65" y2="418.64" stroke="#2438e0" stroke-width="0.95"/><line x1="115.16" y1="411.00" x2="124.65" y2="414.99" stroke="#2438e0" stroke-width="0.95"/><line x1="115.16" y1="407.35" x2="124.65" y2="411.34" stroke="#2438e0" stroke-width="0.95"/><line x1="115.16" y1="403.70" x2="124.65" y2="407.69" stroke="#2438e0" stroke-width="0.95"/><line x1="115.16" y1="400.05" x2="124.65" y2="404.04" stroke="#2438e0" stroke-width="0.95"/><line x1="115.16" y1="396.40" x2="124.65" y2="400.39" stroke="#2438e0" stroke-width="0.95"/><line x1="115.16" y1="392.75" x2="124.65" y2="396.74" stroke="#2438e0" stroke-width="0.95"/></g></g>
<path d="M57.46,450.73 L58.03,462.12 L58.98,462.50 L62.40,462.50 L62.40,402.34  L62.40,402.34 C62.62,402.34 63.19,402.34 63.72,402.34 C64.26,402.34 64.99,402.02 65.62,402.34 C66.25,402.65 66.98,403.29 67.52,404.23 C68.06,405.18 68.37,405.97 68.85,408.03 C69.32,410.09 69.86,413.25 70.37,416.57 C70.87,419.89 71.41,423.85 71.88,427.96 C72.36,432.07 72.68,437.13 73.21,441.24 C73.75,445.36 74.32,449.47 75.11,452.63 C75.90,455.79 76.85,458.48 77.96,460.22 C79.06,461.96 80.17,462.37 81.75,463.07 C83.34,463.76 85.87,464.24 87.45,464.40 C89.03,464.56 90.14,464.40 91.24,464.02 C92.35,463.64 93.30,462.56 94.09,462.12 C94.88,461.68 95.36,461.36 95.99,461.36 C96.62,461.36 97.09,461.90 97.89,462.12 C98.68,462.34 99.78,462.75 100.73,462.69 C101.68,462.63 102.79,462.15 103.58,461.74 C104.37,461.33 104.69,460.48 105.48,460.22 C106.27,459.97 107.38,460.16 108.32,460.22 C109.27,460.29 110.44,461.08 111.17,460.60 C111.90,460.13 112.21,459.65 112.69,457.38 C113.16,455.10 113.57,451.21 114.02,446.94 C114.46,442.67 114.87,436.18 115.35,431.75 C115.82,427.33 116.45,422.74 116.86,420.37 C117.28,417.99 117.40,417.84 117.81,417.52 C118.22,417.20 118.86,417.68 119.33,418.47 C119.81,419.26 120.12,420.68 120.66,422.26 C121.20,423.85 121.99,426.22 122.56,427.96 C123.13,429.70 123.60,430.80 124.08,432.70 C124.55,434.60 124.93,436.97 125.41,439.35 C125.88,441.72 126.35,444.41 126.92,446.94 C127.49,449.47 128.13,452.47 128.82,454.53 C129.52,456.58 130.24,458.07 131.10,459.27 C131.95,460.48 132.68,461.11 133.95,461.74 C135.21,462.37 136.63,462.69 138.69,463.07 C140.75,463.45 143.37,463.80 146.28,464.02 C149.19,464.24 154.51,464.33 156.15,464.40" stroke="#111" stroke-width="0.9" fill="none" />
<text x="113.60" y="407.10" font-size="8" fill="#222" >70S</text>
<text x="66.00" y="474.50" font-size="6.0" fill="#222" >5%</text>
<text x="91.80" y="474.50" font-size="6.3" fill="#222" >sucrose gradient</text>
<text x="150.50" y="474.50" font-size="6.0" fill="#222" >50%</text>
<line x1="198.70" y1="399.10" x2="198.70" y2="465.80" stroke="#222" stroke-width="1.0" />
<line x1="198.20" y1="465.30" x2="297.40" y2="465.30" stroke="#222" stroke-width="1.0" />
<line x1="196.70" y1="399.10" x2="198.70" y2="399.10" stroke="#222" stroke-width="0.8" />
<text x="196.10" y="400.80" font-size="4.8" text-anchor="end" font-weight="bold" fill="#333" >15</text>
<line x1="196.70" y1="421.17" x2="198.70" y2="421.17" stroke="#222" stroke-width="0.8" />
<text x="196.10" y="422.87" font-size="4.8" text-anchor="end" font-weight="bold" fill="#333" >10</text>
<line x1="196.70" y1="443.23" x2="198.70" y2="443.23" stroke="#222" stroke-width="0.8" />
<text x="196.10" y="444.93" font-size="4.8" text-anchor="end" font-weight="bold" fill="#333" >5</text>
<line x1="196.70" y1="465.30" x2="198.70" y2="465.30" stroke="#222" stroke-width="0.8" />
<text x="196.10" y="467.00" font-size="4.8" text-anchor="end" font-weight="bold" fill="#333" >0</text>
<text x="185.70" y="432.20" font-size="5.2" text-anchor="middle" font-weight="bold" fill="#333" transform="rotate(-90 185.70 432.20)" >A260</text>
<clipPath id="clip175_390"><path d="M198.72,445.04 L199.29,462.12 L200.62,462.12 L201.57,462.12 L201.57,401.39  L201.57,401.39 C201.89,401.45 202.68,401.61 203.47,401.77 C204.26,401.93 205.43,401.77 206.32,402.34 C207.20,402.91 208.15,403.76 208.78,405.18 C209.42,406.61 209.67,408.35 210.11,410.88 C210.55,413.41 211.03,416.89 211.44,420.37 C211.85,423.85 212.17,427.96 212.58,431.75 C212.99,435.55 213.37,439.35 213.91,443.14 C214.44,446.94 215.01,451.52 215.80,454.53 C216.60,457.53 217.54,459.68 218.65,461.17 C219.76,462.66 220.87,462.91 222.45,463.45 C224.03,463.99 226.56,464.46 228.14,464.40 C229.72,464.33 230.83,463.45 231.94,463.07 C233.04,462.69 233.83,462.21 234.78,462.12 C235.73,462.03 236.68,462.34 237.63,462.50 C238.58,462.66 239.69,463.29 240.48,463.07 C241.27,462.85 241.74,461.65 242.38,461.17 C243.01,460.70 243.48,460.32 244.27,460.22 C245.06,460.13 246.27,460.92 247.12,460.60 C247.97,460.29 248.76,459.65 249.40,458.32 C250.03,457.00 250.41,456.11 250.92,452.63 C251.42,449.15 251.96,442.19 252.43,437.45 C252.91,432.70 253.38,427.64 253.76,424.16 C254.14,420.68 254.40,418.15 254.71,416.57 C255.03,414.99 255.28,414.67 255.66,414.67 C256.04,414.67 256.51,415.46 256.99,416.57 C257.46,417.68 257.94,419.58 258.51,421.32 C259.08,423.05 259.84,425.43 260.41,427.01 C260.97,428.59 261.45,429.38 261.92,430.80 C262.40,432.23 262.81,433.49 263.25,435.55 C263.69,437.61 264.11,440.29 264.58,443.14 C265.06,445.99 265.53,449.94 266.10,452.63 C266.67,455.32 267.21,457.69 268.00,459.27 C268.79,460.85 269.58,461.42 270.84,462.12 C272.11,462.82 273.53,463.13 275.59,463.45 C277.64,463.76 279.54,463.83 283.18,464.02 C286.82,464.21 295.04,464.49 297.41,464.59 L297.4,470.3 L198.7,470.3 Z"/></clipPath>
<clipPath id="clip175_390r"><rect x="250.92" y="394.1" width="11.96" height="70.60"/></clipPath>
<g clip-path="url(#clip175_390r)"><g clip-path="url(#clip175_390)"><line x1="250.92" y1="462.10" x2="262.87" y2="467.12" stroke="#2438e0" stroke-width="0.95"/><line x1="250.92" y1="458.45" x2="262.87" y2="463.47" stroke="#2438e0" stroke-width="0.95"/><line x1="250.92" y1="454.80" x2="262.87" y2="459.82" stroke="#2438e0" stroke-width="0.95"/><line x1="250.92" y1="451.15" x2="262.87" y2="456.17" stroke="#2438e0" stroke-width="0.95"/><line x1="250.92" y1="447.50" x2="262.87" y2="452.52" stroke="#2438e0" stroke-width="0.95"/><line x1="250.92" y1="443.85" x2="262.87" y2="448.87" stroke="#2438e0" stroke-width="0.95"/><line x1="250.92" y1="440.20" x2="262.87" y2="445.22" stroke="#2438e0" stroke-width="0.95"/><line x1="250.92" y1="436.55" x2="262.87" y2="441.57" stroke="#2438e0" stroke-width="0.95"/><line x1="250.92" y1="432.90" x2="262.87" y2="437.92" stroke="#2438e0" stroke-width="0.95"/><line x1="250.92" y1="429.25" x2="262.87" y2="434.27" stroke="#2438e0" stroke-width="0.95"/><line x1="250.92" y1="425.60" x2="262.87" y2="430.62" stroke="#2438e0" stroke-width="0.95"/><line x1="250.92" y1="421.95" x2="262.87" y2="426.97" stroke="#2438e0" stroke-width="0.95"/><line x1="250.92" y1="418.30" x2="262.87" y2="423.32" stroke="#2438e0" stroke-width="0.95"/><line x1="250.92" y1="414.65" x2="262.87" y2="419.67" stroke="#2438e0" stroke-width="0.95"/><line x1="250.92" y1="411.00" x2="262.87" y2="416.02" stroke="#2438e0" stroke-width="0.95"/><line x1="250.92" y1="407.35" x2="262.87" y2="412.37" stroke="#2438e0" stroke-width="0.95"/><line x1="250.92" y1="403.70" x2="262.87" y2="408.72" stroke="#2438e0" stroke-width="0.95"/><line x1="250.92" y1="400.05" x2="262.87" y2="405.07" stroke="#2438e0" stroke-width="0.95"/><line x1="250.92" y1="396.40" x2="262.87" y2="401.42" stroke="#2438e0" stroke-width="0.95"/><line x1="250.92" y1="392.75" x2="262.87" y2="397.77" stroke="#2438e0" stroke-width="0.95"/></g></g>
<path d="M198.72,445.04 L199.29,462.12 L200.62,462.12 L201.57,462.12 L201.57,401.39  L201.57,401.39 C201.89,401.45 202.68,401.61 203.47,401.77 C204.26,401.93 205.43,401.77 206.32,402.34 C207.20,402.91 208.15,403.76 208.78,405.18 C209.42,406.61 209.67,408.35 210.11,410.88 C210.55,413.41 211.03,416.89 211.44,420.37 C211.85,423.85 212.17,427.96 212.58,431.75 C212.99,435.55 213.37,439.35 213.91,443.14 C214.44,446.94 215.01,451.52 215.80,454.53 C216.60,457.53 217.54,459.68 218.65,461.17 C219.76,462.66 220.87,462.91 222.45,463.45 C224.03,463.99 226.56,464.46 228.14,464.40 C229.72,464.33 230.83,463.45 231.94,463.07 C233.04,462.69 233.83,462.21 234.78,462.12 C235.73,462.03 236.68,462.34 237.63,462.50 C238.58,462.66 239.69,463.29 240.48,463.07 C241.27,462.85 241.74,461.65 242.38,461.17 C243.01,460.70 243.48,460.32 244.27,460.22 C245.06,460.13 246.27,460.92 247.12,460.60 C247.97,460.29 248.76,459.65 249.40,458.32 C250.03,457.00 250.41,456.11 250.92,452.63 C251.42,449.15 251.96,442.19 252.43,437.45 C252.91,432.70 253.38,427.64 253.76,424.16 C254.14,420.68 254.40,418.15 254.71,416.57 C255.03,414.99 255.28,414.67 255.66,414.67 C256.04,414.67 256.51,415.46 256.99,416.57 C257.46,417.68 257.94,419.58 258.51,421.32 C259.08,423.05 259.84,425.43 260.41,427.01 C260.97,428.59 261.45,429.38 261.92,430.80 C262.40,432.23 262.81,433.49 263.25,435.55 C263.69,437.61 264.11,440.29 264.58,443.14 C265.06,445.99 265.53,449.94 266.10,452.63 C266.67,455.32 267.21,457.69 268.00,459.27 C268.79,460.85 269.58,461.42 270.84,462.12 C272.11,462.82 273.53,463.13 275.59,463.45 C277.64,463.76 279.54,463.83 283.18,464.02 C286.82,464.21 295.04,464.49 297.41,464.59" stroke="#111" stroke-width="0.9" fill="none" />
<text x="250.50" y="407.10" font-size="8" fill="#222" >70S</text>
<text x="203.10" y="474.50" font-size="6.0" fill="#222" >5%</text>
<text x="229.10" y="474.50" font-size="6.3" fill="#222" >sucrose gradient</text>
<text x="287.90" y="474.50" font-size="6.0" fill="#222" >50%</text>
<text x="317.60" y="15.30" font-size="21.5" >C</text>
<text x="353.80" y="13.90" font-size="10.3" fill="#222" >MNase (A/U bias)</text>
<text x="353.80" y="28.00" font-size="10.4" fill="#1a22f5" >RNase 1 (no bias)</text>
<path d="M363.5,103.3 A36.8,29.5 0 1 1 427.0,88" stroke="#d8d8d8" stroke-width="1.6" fill="none" />
<path d="M380,56.6 L387,61.5 L387,73.8" stroke="#d8d8d8" stroke-width="1.4" fill="none" />
<path d="M405.2,56.6 L397,61.5 L397,73.8" stroke="#d8d8d8" stroke-width="1.4" fill="none" />
<line x1="418.00" y1="52.50" x2="418.00" y2="162.50" stroke="#333" stroke-width="0.9" stroke-dasharray="3.4,2"/>
<line x1="430.60" y1="52.50" x2="430.60" y2="162.50" stroke="#333" stroke-width="0.9" stroke-dasharray="3.4,2"/>
<line x1="443.40" y1="52.50" x2="443.40" y2="162.50" stroke="#333" stroke-width="0.9" stroke-dasharray="3.4,2"/>
<path d="M417.40,46.90 L414.78,51.62 A5.4,5.4 0 1 0 412.00,46.81 Z" stroke="#333" stroke-width="0.6" fill="#444" />
<path d="M430.70,46.90 L428.08,51.62 A5.4,5.4 0 1 0 425.30,46.81 Z" stroke="#2222aa" stroke-width="0.6" fill="#3535ee" />
<path d="M443.40,46.90 L440.78,51.62 A5.4,5.4 0 1 0 438.00,46.81 Z" stroke="#333" stroke-width="0.6" fill="#444" />
<text x="365.20" y="76.20" font-size="9.8" fill="#222" >+1</text>
<text x="394.60" y="76.20" font-size="9.8" fill="#222" >+16~</text>
<text x="371.00" y="92.00" font-size="9.8" fill="#222" >AUG...NN</text>
<text x="423.90" y="92.00" font-size="9.8" text-anchor="middle" fill="#222" >A</text>
<text x="423.90" y="102.40" font-size="9.8" text-anchor="middle" fill="#222" >U</text>
<text x="436.60" y="92.00" font-size="9.8" text-anchor="middle" fill="#222" >G</text>
<text x="436.60" y="102.40" font-size="9.8" text-anchor="middle" fill="#222" >C</text>
<text x="450.30" y="92.00" font-size="9.8" text-anchor="middle" fill="#222" >A</text>
<text x="450.30" y="102.40" font-size="9.8" text-anchor="middle" fill="#222" >U</text>
<line x1="366.00" y1="106.80" x2="425.80" y2="106.80" stroke="#1f5cf0" stroke-width="1.3" />
<g transform="rotate(-22 356.9 113.6)"><ellipse cx="356.9" cy="113.6" rx="5.4" ry="3.0" fill="#fff" stroke="none"/><line x1="354.59999999999997" y1="110.97063120751127" x2="354.09999999999997" y2="116.22936879248871" stroke="#000" stroke-width="0.9"/><line x1="356.59999999999997" y1="110.61857603000027" x2="356.09999999999997" y2="116.58142396999972" stroke="#000" stroke-width="0.9"/><line x1="358.59999999999997" y1="110.70257670879882" x2="358.09999999999997" y2="116.49742329120117" stroke="#000" stroke-width="0.9"/><line x1="360.4" y1="111.1834929810076" x2="359.9" y2="116.01650701899239" stroke="#000" stroke-width="0.9"/><path d="M351.5,113.6 A5.4,3.0 0 0 1 362.29999999999995,113.6" fill="none" stroke="#000" stroke-width="1.2"/><path d="M351.5,113.6 A5.4,3.0 0 0 0 362.29999999999995,113.6" fill="none" stroke="#1f5cf0" stroke-width="1.2"/></g>
<g transform="rotate(-22 366.8 109.7)"><ellipse cx="366.8" cy="109.7" rx="5.4" ry="3.0" fill="#fff" stroke="none"/><line x1="364.5" y1="107.07063120751128" x2="364.0" y2="112.32936879248872" stroke="#000" stroke-width="0.9"/><line x1="366.5" y1="106.71857603000028" x2="366.0" y2="112.68142396999973" stroke="#000" stroke-width="0.9"/><line x1="368.5" y1="106.80257670879882" x2="368.0" y2="112.59742329120118" stroke="#000" stroke-width="0.9"/><line x1="370.3" y1="107.28349298100761" x2="369.8" y2="112.1165070189924" stroke="#000" stroke-width="0.9"/><path d="M361.40000000000003,109.7 A5.4,3.0 0 0 1 372.2,109.7" fill="none" stroke="#1f5cf0" stroke-width="1.2"/><path d="M361.40000000000003,109.7 A5.4,3.0 0 0 0 372.2,109.7" fill="none" stroke="#000" stroke-width="1.2"/></g>
<path d="M365.4,112.2 A26.6,19 0 0 0 418.6,112.2" stroke="#111" stroke-width="1.3" fill="none" />
<line x1="382.90" y1="112.10" x2="421.50" y2="112.10" stroke="#222" stroke-width="1.2" />
<path d="M420.8,109.6 L425.8,112.1 L420.8,114.6 Z" stroke="none" stroke-width="0" fill="#111" />
<text x="352.30" y="144.10" font-size="11.2" font-weight="bold" fill="#333" >M</text>
<text x="352.30" y="161.80" font-size="11.2" font-weight="bold" fill="#1a2a8a" >R</text>
<line x1="364.20" y1="136.50" x2="443.10" y2="136.50" stroke="#222" stroke-width="0.6" />
<line x1="364.20" y1="138.00" x2="443.10" y2="138.00" stroke="#999" stroke-width="0.5" />
<line x1="364.20" y1="139.50" x2="443.10" y2="139.50" stroke="#666" stroke-width="0.6" />
<line x1="443.10" y1="136.10" x2="443.10" y2="139.90" stroke="#333" stroke-width="0.8" />
<line x1="364.20" y1="141.50" x2="418.30" y2="141.50" stroke="#222" stroke-width="0.6" />
<line x1="364.20" y1="143.60" x2="418.30" y2="143.60" stroke="#777" stroke-width="0.7" />
<line x1="418.30" y1="141.20" x2="418.30" y2="144.00" stroke="#333" stroke-width="0.8" />
<line x1="364.20" y1="154.40" x2="430.10" y2="154.40" stroke="#5a5ae0" stroke-width="0.6" />
<line x1="364.20" y1="156.30" x2="430.10" y2="156.30" stroke="#5a5ae0" stroke-width="0.6" />
<line x1="364.20" y1="158.20" x2="430.10" y2="158.20" stroke="#5a5ae0" stroke-width="0.6" />
<line x1="364.20" y1="160.10" x2="430.10" y2="160.10" stroke="#5a5ae0" stroke-width="0.6" />
<line x1="364.20" y1="162.00" x2="430.10" y2="162.00" stroke="#5a5ae0" stroke-width="0.6" />
<line x1="430.10" y1="154.00" x2="430.10" y2="162.40" stroke="#4a4ad0" stroke-width="0.8" />
<text x="577.30" y="18.30" font-size="10.1" text-anchor="middle" fill="#222" >Average 3' density at start sites</text>
<text x="577.30" y="33.10" font-size="10.1" text-anchor="middle" fill="#222" >Ribo-Ret 32-45 nt</text>
<text x="534.00" y="57.80" font-size="10" text-anchor="middle" fill="#222" >MNase</text>
<line x1="504.90" y1="67.60" x2="504.90" y2="156.90" stroke="#111" stroke-width="1.4" />
<line x1="504.20" y1="156.20" x2="564.10" y2="156.20" stroke="#111" stroke-width="1.4" />
<line x1="501.90" y1="156.20" x2="504.90" y2="156.20" stroke="#111" stroke-width="1.0" />
<text x="501.70" y="158.40" font-size="6.3" text-anchor="end" font-weight="bold" fill="#111" >0.0</text>
<line x1="503.10" y1="145.12" x2="504.90" y2="145.12" stroke="#111" stroke-width="0.8" />
<line x1="501.90" y1="134.05" x2="504.90" y2="134.05" stroke="#111" stroke-width="1.0" />
<text x="501.70" y="136.25" font-size="6.3" text-anchor="end" font-weight="bold" fill="#111" >0.2</text>
<line x1="503.10" y1="122.97" x2="504.90" y2="122.97" stroke="#111" stroke-width="0.8" />
<line x1="501.90" y1="111.90" x2="504.90" y2="111.90" stroke="#111" stroke-width="1.0" />
<text x="501.70" y="114.10" font-size="6.3" text-anchor="end" font-weight="bold" fill="#111" >0.4</text>
<line x1="503.10" y1="100.82" x2="504.90" y2="100.82" stroke="#111" stroke-width="0.8" />
<line x1="501.90" y1="89.75" x2="504.90" y2="89.75" stroke="#111" stroke-width="1.0" />
<text x="501.70" y="91.95" font-size="6.3" text-anchor="end" font-weight="bold" fill="#111" >0.6</text>
<line x1="503.10" y1="78.67" x2="504.90" y2="78.67" stroke="#111" stroke-width="0.8" />
<line x1="501.90" y1="67.60" x2="504.90" y2="67.60" stroke="#111" stroke-width="1.0" />
<text x="501.70" y="69.80" font-size="6.3" text-anchor="end" font-weight="bold" fill="#111" >0.8</text>
<rect x="508.30" y="103.10" width="13.10" height="53.10" fill="#e0e0e0" stroke="#111" stroke-width="1.2" />
<line x1="514.85" y1="156.20" x2="514.85" y2="158.60" stroke="#111" stroke-width="1.0" />
<text x="514.85" y="165.20" font-size="6.5" text-anchor="middle" font-weight="bold" fill="#111" >+16</text>
<rect x="527.60" y="114.20" width="13.10" height="42.00" fill="#e0e0e0" stroke="#111" stroke-width="1.2" />
<line x1="534.15" y1="156.20" x2="534.15" y2="158.60" stroke="#111" stroke-width="1.0" />
<text x="534.15" y="165.20" font-size="6.5" text-anchor="middle" font-weight="bold" fill="#111" >+17</text>
<rect x="547.30" y="140.60" width="13.10" height="15.60" fill="#e0e0e0" stroke="#111" stroke-width="1.2" />
<line x1="553.85" y1="156.20" x2="553.85" y2="158.60" stroke="#111" stroke-width="1.0" />
<text x="553.85" y="165.20" font-size="6.5" text-anchor="middle" font-weight="bold" fill="#111" >+18</text>
<text x="484.30" y="111.40" font-size="8" text-anchor="middle" fill="#222" transform="rotate(-90 484.30 111.40)" >fraction</text>
<text x="627.30" y="57.80" font-size="10" text-anchor="middle" fill="#222" >RNase 1</text>
<line x1="597.70" y1="67.60" x2="597.70" y2="156.90" stroke="#111" stroke-width="1.4" />
<line x1="597.00" y1="156.20" x2="657.60" y2="156.20" stroke="#111" stroke-width="1.4" />
<line x1="594.70" y1="156.20" x2="597.70" y2="156.20" stroke="#111" stroke-width="1.0" />
<text x="594.50" y="158.40" font-size="6.3" text-anchor="end" font-weight="bold" fill="#111" >0.0</text>
<line x1="595.90" y1="145.12" x2="597.70" y2="145.12" stroke="#111" stroke-width="0.8" />
<line x1="594.70" y1="134.05" x2="597.70" y2="134.05" stroke="#111" stroke-width="1.0" />
<text x="594.50" y="136.25" font-size="6.3" text-anchor="end" font-weight="bold" fill="#111" >0.2</text>
<line x1="595.90" y1="122.97" x2="597.70" y2="122.97" stroke="#111" stroke-width="0.8" />
<line x1="594.70" y1="111.90" x2="597.70" y2="111.90" stroke="#111" stroke-width="1.0" />
<text x="594.50" y="114.10" font-size="6.3" text-anchor="end" font-weight="bold" fill="#111" >0.4</text>
<line x1="595.90" y1="100.82" x2="597.70" y2="100.82" stroke="#111" stroke-width="0.8" />
<line x1="594.70" y1="89.75" x2="597.70" y2="89.75" stroke="#111" stroke-width="1.0" />
<text x="594.50" y="91.95" font-size="6.3" text-anchor="end" font-weight="bold" fill="#111" >0.6</text>
<line x1="595.90" y1="78.67" x2="597.70" y2="78.67" stroke="#111" stroke-width="0.8" />
<line x1="594.70" y1="67.60" x2="597.70" y2="67.60" stroke="#111" stroke-width="1.0" />
<text x="594.50" y="69.80" font-size="6.3" text-anchor="end" font-weight="bold" fill="#111" >0.8</text>
<rect x="601.40" y="135.20" width="13.10" height="21.00" fill="#e0e0e0" stroke="#111" stroke-width="1.2" />
<line x1="607.95" y1="156.20" x2="607.95" y2="158.60" stroke="#111" stroke-width="1.0" />
<text x="607.95" y="165.20" font-size="6.5" text-anchor="middle" font-weight="bold" fill="#111" >+16</text>
<rect x="621.40" y="89.80" width="13.10" height="66.40" fill="#4f408c" stroke="#111" stroke-width="1.2" />
<line x1="627.95" y1="156.20" x2="627.95" y2="158.60" stroke="#111" stroke-width="1.0" />
<text x="627.95" y="165.20" font-size="6.5" text-anchor="middle" font-weight="bold" fill="#111" >+17</text>
<rect x="640.80" y="132.90" width="13.10" height="23.30" fill="#e0e0e0" stroke="#111" stroke-width="1.2" />
<line x1="647.35" y1="156.20" x2="647.35" y2="158.60" stroke="#111" stroke-width="1.0" />
<text x="647.35" y="165.20" font-size="6.5" text-anchor="middle" font-weight="bold" fill="#111" >+18</text>
<text x="577.20" y="111.40" font-size="8" text-anchor="middle" fill="#222" transform="rotate(-90 577.20 111.40)" >fraction</text>
<text x="316.20" y="207.20" font-size="21.5" >D</text>
<rect x="357.90" y="229.20" width="145.30" height="85.20" fill="none" stroke="#8a8a8a" stroke-width="0.9" />
<text x="343.30" y="216.10" font-size="10" fill="#111" >MNase</text>
<text x="430.70" y="224.90" font-size="6.3" text-anchor="middle" fill="#333" >Size Distribution</text>
<text x="354.20" y="236.10" font-size="5.4" text-anchor="end" fill="#444" >15</text>
<text x="354.20" y="248.96" font-size="5.4" text-anchor="end" fill="#444" >12.5</text>
<text x="354.20" y="261.83" font-size="5.4" text-anchor="end" fill="#444" >10</text>
<text x="354.20" y="274.70" font-size="5.4" text-anchor="end" fill="#444" >7.5</text>
<text x="354.20" y="287.56" font-size="5.4" text-anchor="end" fill="#444" >5</text>
<text x="354.20" y="300.43" font-size="5.4" text-anchor="end" fill="#444" >2.5</text>
<text x="354.20" y="313.30" font-size="5.4" text-anchor="end" fill="#444" >0</text>
<text x="364.60" y="322.00" font-size="5.4" text-anchor="middle" fill="#444" >15</text>
<text x="382.85" y="322.00" font-size="5.4" text-anchor="middle" fill="#444" >20</text>
<text x="401.10" y="322.00" font-size="5.4" text-anchor="middle" fill="#444" >25</text>
<text x="419.35" y="322.00" font-size="5.4" text-anchor="middle" fill="#444" >30</text>
<text x="437.60" y="322.00" font-size="5.4" text-anchor="middle" fill="#444" >35</text>
<text x="455.85" y="322.00" font-size="5.4" text-anchor="middle" fill="#444" >40</text>
<text x="474.10" y="322.00" font-size="5.4" text-anchor="middle" fill="#444" >45</text>
<text x="492.35" y="322.00" font-size="5.4" text-anchor="middle" fill="#444" >50</text>
<text x="430.70" y="332.60" font-size="6.4" text-anchor="middle" fill="#333" >Read Length (nt)</text>
<text x="342.20" y="271.80" font-size="6.4" text-anchor="middle" fill="#333" transform="rotate(-90 342.20 271.80)" >Percent of Reads</text>
<path d="M364.20,308.21 L370.33,305.58 L376.90,302.73 L383.47,299.89 L386.75,299.01 L390.03,299.45 L396.60,295.07 L400.98,291.13 L404.92,283.02 L407.99,277.55 L411.49,278.86 L415.21,283.24 L418.94,287.40 L422.88,290.69 L426.82,292.22 L430.54,291.13 L434.26,290.25 L437.77,289.37 L441.05,287.40 L444.77,284.56 L448.72,289.59 L452.44,296.16 L456.16,300.54 L460.10,302.73 L463.39,304.26 L467.11,305.58 L471.05,306.45 L474.99,307.33 L479.81,307.77 L485.28,308.21 L489.00,309.30 L492.51,307.77 L496.23,300.54" stroke="#777" stroke-width="0.9" fill="none" stroke-linejoin="round"/>
<path d="M364.20,308.64 L370.33,306.45 L376.90,303.39 L383.47,300.54 L386.75,299.45 L390.03,299.45 L396.60,294.63 L400.98,290.25 L404.92,281.49 L407.99,275.80 L411.49,277.99 L415.21,282.37 L418.94,286.75 L422.88,291.13 L426.82,291.78 L430.54,290.25 L434.26,287.40 L437.77,287.40 L441.05,288.94 L444.77,282.37 L448.72,286.31 L452.44,294.63 L456.16,299.45 L460.10,302.07 L463.39,304.26 L467.11,306.02 L471.05,306.89 L474.99,307.77 L479.81,308.21 L485.28,308.64 L489.00,309.96 L492.51,308.64 L496.23,301.64" stroke="#111" stroke-width="0.9" fill="none" stroke-linejoin="round"/>
<path d="M364.20,309.30 L370.33,307.77 L376.90,306.45 L383.47,304.26 L390.03,304.26 L396.60,301.64 L400.98,300.54 L404.92,298.35 L408.65,296.82 L412.37,298.13 L416.31,298.57 L419.59,299.01 L422.88,299.45 L426.82,295.51 L430.54,290.69 L434.26,271.64 L437.77,272.08 L441.05,273.17 L444.77,232.01 L448.72,243.61 L452.44,288.50 L456.16,295.07 L460.10,299.45 L463.39,302.07 L467.11,304.92 L471.05,306.45 L474.99,307.33 L479.81,308.21 L485.28,309.08 L489.00,310.40 L492.51,309.30 L496.23,303.83" stroke="#2a66b8" stroke-width="0.9" fill="none" stroke-linejoin="round"/>
<path d="M364.20,309.30 L370.33,307.77 L376.90,306.45 L383.47,304.48 L390.03,304.26 L396.60,301.64 L400.98,300.10 L404.92,296.82 L408.65,293.32 L412.37,295.72 L416.31,297.91 L419.59,298.57 L422.88,299.01 L426.82,295.51 L430.54,290.69 L434.26,271.64 L437.77,272.73 L441.05,273.61 L444.77,239.23 L448.72,249.09 L452.44,288.94 L456.16,295.51 L460.10,299.89 L463.39,302.51 L467.11,305.14 L471.05,306.67 L474.99,307.55 L479.81,308.42 L485.28,309.30 L489.00,310.61 L492.51,309.74 L496.23,304.92" stroke="#2233a8" stroke-width="0.9" fill="none" stroke-linejoin="round"/>
<line x1="463.00" y1="235.30" x2="470.80" y2="235.30" stroke="#111" stroke-width="1.9" />
<text x="472.00" y="237.30" font-size="5.8" fill="#222" >Ribo-seq 1</text>
<line x1="463.00" y1="245.10" x2="470.80" y2="245.10" stroke="#777" stroke-width="1.9" />
<text x="472.00" y="247.10" font-size="5.8" fill="#222" >Ribo-seq 2</text>
<line x1="463.00" y1="253.90" x2="470.80" y2="253.90" stroke="#2a66b8" stroke-width="1.9" />
<text x="472.00" y="255.90" font-size="5.8" fill="#222" >Ribo-Ret 1</text>
<line x1="463.00" y1="263.30" x2="470.80" y2="263.30" stroke="#2233a8" stroke-width="1.9" />
<text x="472.00" y="265.30" font-size="5.8" fill="#222" >Ribo-Ret 2</text>
<rect x="357.90" y="368.90" width="145.30" height="87.00" fill="none" stroke="#8a8a8a" stroke-width="0.9" />
<text x="343.30" y="358.60" font-size="10" fill="#111" >RNase 1</text>
<text x="430.70" y="365.50" font-size="6.3" text-anchor="middle" fill="#333" >Size Distribution</text>
<text x="354.20" y="375.00" font-size="5.4" text-anchor="end" fill="#444" >14</text>
<text x="354.20" y="386.30" font-size="5.4" text-anchor="end" fill="#444" >12</text>
<text x="354.20" y="397.60" font-size="5.4" text-anchor="end" fill="#444" >10</text>
<text x="354.20" y="408.90" font-size="5.4" text-anchor="end" fill="#444" >8</text>
<text x="354.20" y="420.20" font-size="5.4" text-anchor="end" fill="#444" >6</text>
<text x="354.20" y="431.50" font-size="5.4" text-anchor="end" fill="#444" >4</text>
<text x="354.20" y="442.80" font-size="5.4" text-anchor="end" fill="#444" >2</text>
<text x="354.20" y="454.10" font-size="5.4" text-anchor="end" fill="#444" >0</text>
<text x="364.60" y="464.00" font-size="5.4" text-anchor="middle" fill="#444" >15</text>
<text x="382.85" y="464.00" font-size="5.4" text-anchor="middle" fill="#444" >20</text>
<text x="401.10" y="464.00" font-size="5.4" text-anchor="middle" fill="#444" >25</text>
<text x="419.35" y="464.00" font-size="5.4" text-anchor="middle" fill="#444" >30</text>
<text x="437.60" y="464.00" font-size="5.4" text-anchor="middle" fill="#444" >35</text>
<text x="455.85" y="464.00" font-size="5.4" text-anchor="middle" fill="#444" >40</text>
<text x="474.10" y="464.00" font-size="5.4" text-anchor="middle" fill="#444" >45</text>
<text x="492.35" y="464.00" font-size="5.4" text-anchor="middle" fill="#444" >50</text>
<text x="430.70" y="473.70" font-size="6.4" text-anchor="middle" fill="#333" >Read Length (nt)</text>
<text x="342.20" y="412.40" font-size="6.4" text-anchor="middle" fill="#333" transform="rotate(-90 342.20 412.40)" >Percent of Reads</text>
<path d="M364.20,451.49 L371.42,450.40 L378.65,449.30 L383.47,446.89 L390.03,443.83 L396.60,440.54 L400.98,435.51 L404.92,427.62 L408.65,413.61 L412.37,393.90 L415.87,389.96 L419.59,414.27 L423.32,419.30 L427.26,424.56 L430.54,423.68 L434.26,418.43 L438.21,414.49 L441.49,418.43 L445.21,427.19 L448.72,435.94 L452.44,441.20 L456.16,444.92 L460.10,447.77 L463.39,448.86 L467.11,449.30 L471.05,450.40 L474.99,450.83 L479.81,451.27 L485.28,451.71 L489.00,452.15 L492.95,451.71 L496.89,451.05" stroke="#777" stroke-width="0.9" fill="none" stroke-linejoin="round"/>
<path d="M364.20,451.49 L371.42,450.40 L378.65,449.08 L383.47,447.11 L390.03,444.26 L396.60,441.20 L400.98,436.16 L404.92,428.50 L408.65,414.27 L412.37,393.03 L415.87,390.84 L419.59,415.36 L423.32,419.74 L427.26,424.12 L430.54,423.02 L434.26,417.55 L438.21,413.61 L441.49,417.55 L445.21,426.31 L448.72,435.07 L452.44,440.54 L456.16,444.26 L460.10,447.11 L463.39,448.21 L467.11,448.64 L471.05,449.96 L474.99,450.40 L479.81,451.05 L485.28,451.49 L489.00,452.15 L492.95,451.71 L496.89,451.05" stroke="#111" stroke-width="0.9" fill="none" stroke-linejoin="round"/>
<path d="M364.20,451.49 L371.42,450.40 L378.65,449.30 L383.47,447.11 L390.03,445.58 L396.60,443.83 L400.98,442.07 L404.92,440.54 L408.65,438.35 L412.37,432.44 L415.87,434.63 L419.59,435.51 L423.32,432.44 L427.26,428.50 L430.54,416.46 L434.26,391.28 L438.21,373.32 L441.49,377.70 L445.21,400.03 L448.72,421.93 L452.44,435.07 L456.16,441.64 L460.10,445.58 L463.39,446.02 L467.11,444.92 L471.05,446.45 L474.99,449.30 L479.81,451.49 L485.28,451.93 L489.00,452.15 L492.95,451.93 L496.89,451.05" stroke="#2a66b8" stroke-width="0.9" fill="none" stroke-linejoin="round"/>
<path d="M364.20,451.27 L371.42,450.18 L378.65,449.08 L383.47,446.89 L390.03,445.14 L396.60,443.39 L400.98,441.64 L404.92,440.10 L408.65,437.91 L412.37,432.00 L415.87,434.19 L419.59,435.07 L423.32,432.00 L427.26,427.84 L430.54,415.36 L434.26,390.18 L438.21,373.76 L441.49,378.58 L445.21,401.13 L448.72,422.81 L452.44,435.51 L456.16,442.07 L460.10,445.14 L463.39,446.45 L467.11,446.02 L471.05,447.33 L474.99,449.74 L479.81,451.49 L485.28,451.93 L489.00,452.15 L492.95,451.93 L496.89,451.05" stroke="#2233a8" stroke-width="0.9" fill="none" stroke-linejoin="round"/>
<line x1="463.00" y1="376.60" x2="470.80" y2="376.60" stroke="#111" stroke-width="1.9" />
<text x="473.20" y="378.60" font-size="5.8" fill="#222" >Ribo-seq 1</text>
<line x1="463.00" y1="386.20" x2="470.80" y2="386.20" stroke="#777" stroke-width="1.9" />
<text x="473.20" y="388.20" font-size="5.8" fill="#222" >Ribo-seq 2</text>
<line x1="463.00" y1="395.70" x2="470.80" y2="395.70" stroke="#2a66b8" stroke-width="1.9" />
<text x="473.20" y="397.70" font-size="5.8" fill="#222" >Ribo-Ret 1</text>
<line x1="463.00" y1="404.90" x2="470.80" y2="404.90" stroke="#2233a8" stroke-width="1.9" />
<text x="473.20" y="406.90" font-size="5.8" fill="#222" >Ribo-Ret 2</text>
<text x="541.90" y="215.50" font-size="10" fill="#111" >MNase</text>
<line x1="543.60" y1="232.20" x2="543.60" y2="306.20" stroke="#111" stroke-width="1.2" />
<line x1="543.00" y1="305.60" x2="652.60" y2="305.60" stroke="#111" stroke-width="1.2" />
<line x1="541.20" y1="305.60" x2="543.60" y2="305.60" stroke="#111" stroke-width="0.9" />
<text x="540.60" y="307.50" font-size="5.3" text-anchor="end" font-weight="bold" fill="#111" >0</text>
<line x1="541.20" y1="284.47" x2="543.60" y2="284.47" stroke="#111" stroke-width="0.9" />
<text x="540.60" y="286.37" font-size="5.3" text-anchor="end" font-weight="bold" fill="#111" >50</text>
<line x1="541.20" y1="263.33" x2="543.60" y2="263.33" stroke="#111" stroke-width="0.9" />
<text x="540.60" y="265.23" font-size="5.3" text-anchor="end" font-weight="bold" fill="#111" >100</text>
<line x1="541.20" y1="242.20" x2="543.60" y2="242.20" stroke="#111" stroke-width="0.9" />
<text x="540.60" y="244.10" font-size="5.3" text-anchor="end" font-weight="bold" fill="#111" >150</text>
<line x1="543.36" y1="305.60" x2="543.36" y2="307.80" stroke="#111" stroke-width="0.9" />
<text x="543.36" y="313.10" font-size="5.3" text-anchor="middle" font-weight="bold" fill="#111" >-15</text>
<line x1="570.70" y1="305.60" x2="570.70" y2="307.80" stroke="#111" stroke-width="0.9" />
<text x="570.70" y="313.10" font-size="5.3" text-anchor="middle" font-weight="bold" fill="#111" >0</text>
<line x1="598.05" y1="305.60" x2="598.05" y2="307.80" stroke="#111" stroke-width="0.9" />
<text x="598.05" y="313.10" font-size="5.3" text-anchor="middle" font-weight="bold" fill="#111" >15</text>
<line x1="625.39" y1="305.60" x2="625.39" y2="307.80" stroke="#111" stroke-width="0.9" />
<text x="625.39" y="313.10" font-size="5.3" text-anchor="middle" font-weight="bold" fill="#111" >30</text>
<line x1="652.74" y1="305.60" x2="652.74" y2="307.80" stroke="#111" stroke-width="0.9" />
<text x="652.74" y="313.10" font-size="5.3" text-anchor="middle" font-weight="bold" fill="#111" >45</text>
<text x="599.00" y="324.90" font-size="7.9" text-anchor="middle" fill="#222" >Distance from start (nt)</text>
<text x="525.60" y="268.60" font-size="7.7" text-anchor="middle" fill="#222" transform="rotate(-90 525.60 268.60)" >Avg. ribo. density</text>
<path d="M543.65,305.58 L592.55,305.00 L595.18,302.37 L596.93,296.53 L598.10,294.34 L599.12,296.53 L600.58,300.91 L602.04,303.10 L604.23,304.56 L607.15,305.29 L612.99,305.58 L652.26,305.58" stroke="#111" stroke-width="0.9" fill="none" stroke-linejoin="round"/>
<path d="M543.65,305.58 L564.82,305.29 L567.74,304.27 L569.93,305.00 L572.12,305.29 L574.31,302.08 L575.77,304.56 L577.96,303.83 L580.15,302.66 L582.34,303.54 L583.80,304.56 L586.72,303.83 L589.64,303.83 L592.55,303.54 L595.47,297.99 L597.23,276.09 L598.39,254.20 L599.56,268.80 L600.58,283.39 L601.31,292.15 L602.77,292.88 L604.23,297.99 L605.69,301.64 L607.88,302.37 L609.78,303.83 L612.99,305.00 L618.83,305.58 L652.26,305.58" stroke="#1414f0" stroke-width="0.9" fill="none" stroke-linejoin="round"/>
<path d="M543.65,305.58 L566.28,305.29 L570.66,305.00 L576.50,304.56 L583.80,304.56 L589.64,304.56 L592.55,303.83 L594.74,300.91 L596.20,296.53 L597.23,268.80 L598.10,237.41 L599.12,246.90 L599.85,261.50 L601.02,280.47 L602.04,286.31 L603.07,284.85 L604.23,289.23 L605.69,296.53 L607.15,300.91 L608.61,299.45 L610.07,301.64 L612.99,304.56 L618.83,305.29 L652.26,305.58" stroke="#9a5aa8" stroke-width="0.9" fill="none" stroke-linejoin="round"/>
<line x1="613.50" y1="230.90" x2="626.30" y2="230.90" stroke="#8e4fa6" stroke-width="3.0" />
<text x="628.80" y="233.20" font-size="6.6" fill="#222" >Ribo-Ret (32-45 nt)</text>
<line x1="613.50" y1="241.10" x2="626.30" y2="241.10" stroke="#1414f0" stroke-width="3.0" />
<text x="628.80" y="243.40" font-size="6.6" fill="#222" >Ribo-Ret (15-45 nt)</text>
<line x1="613.50" y1="252.60" x2="626.30" y2="252.60" stroke="#111" stroke-width="3.0" />
<text x="628.80" y="254.90" font-size="6.6" fill="#222" >Ribo-seq (15-45 nt)</text>
<text x="541.90" y="358.80" font-size="10" fill="#111" >RNase 1</text>
<line x1="543.60" y1="375.90" x2="543.60" y2="450.60" stroke="#111" stroke-width="1.2" />
<line x1="543.00" y1="450.00" x2="652.60" y2="450.00" stroke="#111" stroke-width="1.2" />
<line x1="541.20" y1="450.00" x2="543.60" y2="450.00" stroke="#111" stroke-width="0.9" />
<text x="540.60" y="451.90" font-size="5.3" text-anchor="end" font-weight="bold" fill="#111" >0</text>
<line x1="541.20" y1="436.56" x2="543.60" y2="436.56" stroke="#111" stroke-width="0.9" />
<text x="540.60" y="438.46" font-size="5.3" text-anchor="end" font-weight="bold" fill="#111" >50</text>
<line x1="541.20" y1="423.12" x2="543.60" y2="423.12" stroke="#111" stroke-width="0.9" />
<text x="540.60" y="425.02" font-size="5.3" text-anchor="end" font-weight="bold" fill="#111" >100</text>
<line x1="541.20" y1="409.68" x2="543.60" y2="409.68" stroke="#111" stroke-width="0.9" />
<text x="540.60" y="411.58" font-size="5.3" text-anchor="end" font-weight="bold" fill="#111" >150</text>
<line x1="541.20" y1="396.24" x2="543.60" y2="396.24" stroke="#111" stroke-width="0.9" />
<text x="540.60" y="398.14" font-size="5.3" text-anchor="end" font-weight="bold" fill="#111" >200</text>
<line x1="541.20" y1="382.80" x2="543.60" y2="382.80" stroke="#111" stroke-width="0.9" />
<text x="540.60" y="384.70" font-size="5.3" text-anchor="end" font-weight="bold" fill="#111" >250</text>
<line x1="543.36" y1="450.00" x2="543.36" y2="452.20" stroke="#111" stroke-width="0.9" />
<text x="543.36" y="457.60" font-size="5.3" text-anchor="middle" font-weight="bold" fill="#111" >-15</text>
<line x1="570.70" y1="450.00" x2="570.70" y2="452.20" stroke="#111" stroke-width="0.9" />
<text x="570.70" y="457.60" font-size="5.3" text-anchor="middle" font-weight="bold" fill="#111" >0</text>
<line x1="598.05" y1="450.00" x2="598.05" y2="452.20" stroke="#111" stroke-width="0.9" />
<text x="598.05" y="457.60" font-size="5.3" text-anchor="middle" font-weight="bold" fill="#111" >15</text>
<line x1="625.39" y1="450.00" x2="625.39" y2="452.20" stroke="#111" stroke-width="0.9" />
<text x="625.39" y="457.60" font-size="5.3" text-anchor="middle" font-weight="bold" fill="#111" >30</text>
<line x1="652.74" y1="450.00" x2="652.74" y2="452.20" stroke="#111" stroke-width="0.9" />
<text x="652.74" y="457.60" font-size="5.3" text-anchor="middle" font-weight="bold" fill="#111" >45</text>
<text x="599.00" y="469.10" font-size="7.9" text-anchor="middle" fill="#222" >Distance from start (nt)</text>
<text x="525.60" y="413.00" font-size="7.7" text-anchor="middle" fill="#222" transform="rotate(-90 525.60 413.00)" >Avg. ribo. density</text>
<path d="M543.65,449.96 L592.55,449.67 L595.47,449.38 L597.37,446.75 L598.39,439.45 L599.56,433.32 L600.58,439.45 L601.75,446.02 L603.50,448.50 L605.69,449.38 L608.61,449.67 L612.99,449.96 L652.26,449.96" stroke="#111" stroke-width="0.9" fill="none" stroke-linejoin="round"/>
<path d="M543.65,449.96 L567.74,449.67 L574.31,448.50 L576.50,449.38 L579.12,448.21 L582.34,448.94 L586.72,449.23 L590.36,448.50 L594.01,447.48 L596.20,444.56 L597.66,432.15 L598.83,408.80 L599.56,394.20 L600.29,408.80 L601.31,426.31 L602.48,437.99 L603.50,443.83 L604.53,445.00 L606.42,446.02 L608.32,447.19 L610.07,447.92 L612.99,449.38 L618.83,449.96 L652.26,449.96" stroke="#1414f0" stroke-width="0.9" fill="none" stroke-linejoin="round"/>
<path d="M543.65,449.96 L567.74,449.67 L573.58,449.38 L579.42,448.50 L583.80,449.09 L589.64,448.94 L593.28,448.21 L595.47,446.02 L596.93,440.91 L598.10,423.39 L598.83,394.20 L599.56,379.60 L600.29,394.20 L601.02,416.09 L602.04,433.61 L603.07,442.37 L604.23,444.56 L605.69,446.02 L607.88,447.48 L610.07,448.21 L612.99,449.38 L618.83,449.96 L652.26,449.96" stroke="#9a5aa8" stroke-width="0.9" fill="none" stroke-linejoin="round"/>
<line x1="613.50" y1="373.80" x2="626.30" y2="373.80" stroke="#8e4fa6" stroke-width="3.0" />
<text x="628.80" y="376.10" font-size="6.6" fill="#222" >Ribo-Ret (32-45 nt)</text>
<line x1="613.50" y1="384.30" x2="626.30" y2="384.30" stroke="#1414f0" stroke-width="3.0" />
<text x="628.80" y="386.60" font-size="6.6" fill="#222" >Ribo-Ret (15-45 nt)</text>
<line x1="613.50" y1="395.80" x2="626.30" y2="395.80" stroke="#111" stroke-width="3.0" />
<text x="628.80" y="398.10" font-size="6.6" fill="#222" >Ribo-seq (15-45 nt)</text>
<text x="-0.20" y="524.20" font-size="21.5" >E</text>
<text x="106.40" y="521.00" font-size="13.1" font-weight="bold" font-style="italic" fill="#1b3188" >sORF20</text>
<text x="166.60" y="521.00" font-size="7.6" fill="#222" >(MWSPVCELGETKESDKKRTNNND*)</text>
<line x1="38.70" y1="525.40" x2="38.70" y2="562.30" stroke="#555" stroke-width="0.9" />
<line x1="38.70" y1="525.80" x2="40.00" y2="525.80" stroke="#555" stroke-width="0.8" />
<line x1="38.70" y1="561.90" x2="40.00" y2="561.90" stroke="#555" stroke-width="0.8" />
<line x1="50.10" y1="562.30" x2="338.10" y2="562.30" stroke="#bbb" stroke-width="0.9" />
<text x="275.60" y="553.20" font-size="9.45" fill="#222" >MNase Ribo-seq (15-45 nt)</text>
<text x="36.50" y="543.30" font-size="7.9" text-anchor="middle" fill="#333" transform="rotate(-90 36.50 543.30)" >140 rpm</text>
<line x1="38.70" y1="562.30" x2="38.70" y2="599.10" stroke="#555" stroke-width="0.9" />
<line x1="38.70" y1="562.70" x2="40.00" y2="562.70" stroke="#555" stroke-width="0.8" />
<line x1="38.70" y1="598.70" x2="40.00" y2="598.70" stroke="#555" stroke-width="0.8" />
<line x1="50.10" y1="599.10" x2="338.10" y2="599.10" stroke="#999" stroke-width="0.9" />
<text x="275.60" y="590.30" font-size="9.45" fill="#222" >MNase Ribo-Ret (32-45 nt)</text>
<text x="36.50" y="580.10" font-size="7.9" text-anchor="middle" fill="#333" transform="rotate(-90 36.50 580.10)" >2400 rpm</text>
<line x1="38.70" y1="599.10" x2="38.70" y2="636.50" stroke="#555" stroke-width="0.9" />
<line x1="38.70" y1="599.50" x2="40.00" y2="599.50" stroke="#555" stroke-width="0.8" />
<line x1="38.70" y1="636.10" x2="40.00" y2="636.10" stroke="#555" stroke-width="0.8" />
<line x1="50.10" y1="636.50" x2="338.10" y2="636.50" stroke="#bbb" stroke-width="0.9" />
<text x="275.60" y="627.20" font-size="9.45" fill="#222" >RNase 1 Ribo-seq (15-45 nt)</text>
<text x="36.50" y="617.90" font-size="7.9" text-anchor="middle" fill="#333" transform="rotate(-90 36.50 617.90)" >250 rpm</text>
<line x1="38.70" y1="636.50" x2="38.70" y2="673.80" stroke="#555" stroke-width="0.9" />
<line x1="38.70" y1="636.90" x2="40.00" y2="636.90" stroke="#555" stroke-width="0.8" />
<line x1="38.70" y1="673.40" x2="40.00" y2="673.40" stroke="#555" stroke-width="0.8" />
<line x1="50.10" y1="673.80" x2="338.10" y2="673.80" stroke="#999" stroke-width="0.9" />
<text x="275.60" y="664.20" font-size="9.45" fill="#222" >RNase 1 Ribo-Ret (32-45 nt)</text>
<text x="36.50" y="655.20" font-size="7.9" text-anchor="middle" fill="#333" transform="rotate(-90 36.50 655.20)" >2000 rpm</text>
<line x1="159.10" y1="562.30" x2="159.10" y2="527.90" stroke="#000" stroke-width="1.0" />
<line x1="149.40" y1="562.30" x2="149.40" y2="541.20" stroke="#000" stroke-width="1.0" />
<line x1="146.80" y1="562.30" x2="146.80" y2="549.10" stroke="#999" stroke-width="0.9" />
<line x1="152.10" y1="562.30" x2="152.10" y2="557.00" stroke="#666" stroke-width="0.8" />
<line x1="145.50" y1="562.30" x2="145.50" y2="560.80" stroke="#222" stroke-width="0.8" />
<line x1="147.70" y1="562.30" x2="147.70" y2="559.30" stroke="#222" stroke-width="0.8" />
<line x1="148.50" y1="562.30" x2="148.50" y2="560.30" stroke="#222" stroke-width="0.8" />
<line x1="150.50" y1="562.30" x2="150.50" y2="559.80" stroke="#222" stroke-width="0.8" />
<line x1="151.20" y1="562.30" x2="151.20" y2="560.80" stroke="#222" stroke-width="0.8" />
<line x1="153.20" y1="562.30" x2="153.20" y2="560.30" stroke="#222" stroke-width="0.8" />
<line x1="155.00" y1="562.30" x2="155.00" y2="561.10" stroke="#222" stroke-width="0.8" />
<line x1="158.20" y1="562.30" x2="158.20" y2="559.80" stroke="#222" stroke-width="0.8" />
<line x1="160.00" y1="562.30" x2="160.00" y2="560.30" stroke="#222" stroke-width="0.8" />
<line x1="160.80" y1="562.30" x2="160.80" y2="560.80" stroke="#222" stroke-width="0.8" />
<line x1="161.60" y1="562.30" x2="161.60" y2="561.30" stroke="#222" stroke-width="0.8" />
<line x1="164.80" y1="562.30" x2="164.80" y2="561.30" stroke="#222" stroke-width="0.8" />
<line x1="170.40" y1="562.30" x2="170.40" y2="561.50" stroke="#222" stroke-width="0.8" />
<line x1="252.60" y1="562.30" x2="252.60" y2="555.90" stroke="#222" stroke-width="0.8" />
<line x1="250.60" y1="562.30" x2="250.60" y2="561.30" stroke="#222" stroke-width="0.8" />
<line x1="240.00" y1="562.30" x2="240.00" y2="561.30" stroke="#222" stroke-width="0.8" />
<line x1="233.00" y1="562.30" x2="233.00" y2="561.50" stroke="#222" stroke-width="0.8" />
<line x1="262.00" y1="562.30" x2="262.00" y2="561.50" stroke="#222" stroke-width="0.8" />
<line x1="275.00" y1="562.30" x2="275.00" y2="561.50" stroke="#222" stroke-width="0.8" />
<line x1="290.00" y1="562.30" x2="290.00" y2="561.50" stroke="#222" stroke-width="0.8" />
<line x1="310.00" y1="562.30" x2="310.00" y2="561.50" stroke="#222" stroke-width="0.8" />
<line x1="328.00" y1="562.30" x2="328.00" y2="561.30" stroke="#222" stroke-width="0.8" />
<line x1="330.00" y1="562.30" x2="330.00" y2="561.30" stroke="#222" stroke-width="0.8" />
<line x1="159.10" y1="599.10" x2="159.10" y2="565.60" stroke="#000" stroke-width="1.0" />
<line x1="151.40" y1="599.10" x2="151.40" y2="597.90" stroke="#555" stroke-width="0.8" />
<line x1="327.50" y1="599.10" x2="327.50" y2="597.60" stroke="#555" stroke-width="0.8" />
<line x1="220.00" y1="599.10" x2="220.00" y2="598.30" stroke="#555" stroke-width="0.8" />
<line x1="159.40" y1="636.50" x2="159.40" y2="603.00" stroke="#000" stroke-width="1.0" />
<line x1="149.40" y1="636.50" x2="149.40" y2="614.00" stroke="#000" stroke-width="1.0" />
<line x1="158.50" y1="636.50" x2="158.50" y2="624.20" stroke="#000" stroke-width="0.9" />
<line x1="145.50" y1="636.50" x2="145.50" y2="635.00" stroke="#222" stroke-width="0.8" />
<line x1="146.80" y1="636.50" x2="146.80" y2="635.00" stroke="#222" stroke-width="0.8" />
<line x1="148.10" y1="636.50" x2="148.10" y2="634.30" stroke="#222" stroke-width="0.8" />
<line x1="150.50" y1="636.50" x2="150.50" y2="634.70" stroke="#222" stroke-width="0.8" />
<line x1="151.80" y1="636.50" x2="151.80" y2="633.00" stroke="#222" stroke-width="0.8" />
<line x1="153.50" y1="636.50" x2="153.50" y2="635.00" stroke="#222" stroke-width="0.8" />
<line x1="155.50" y1="636.50" x2="155.50" y2="635.30" stroke="#222" stroke-width="0.8" />
<line x1="157.30" y1="636.50" x2="157.30" y2="634.90" stroke="#222" stroke-width="0.8" />
<line x1="160.30" y1="636.50" x2="160.30" y2="634.00" stroke="#222" stroke-width="0.8" />
<line x1="161.20" y1="636.50" x2="161.20" y2="632.50" stroke="#222" stroke-width="0.8" />
<line x1="162.00" y1="636.50" x2="162.00" y2="634.50" stroke="#222" stroke-width="0.8" />
<line x1="252.60" y1="636.50" x2="252.60" y2="628.90" stroke="#222" stroke-width="0.8" />
<line x1="251.00" y1="636.50" x2="251.00" y2="635.30" stroke="#222" stroke-width="0.8" />
<line x1="254.00" y1="636.50" x2="254.00" y2="635.50" stroke="#222" stroke-width="0.8" />
<line x1="270.00" y1="636.50" x2="270.00" y2="635.70" stroke="#222" stroke-width="0.8" />
<line x1="300.00" y1="636.50" x2="300.00" y2="635.90" stroke="#222" stroke-width="0.8" />
<line x1="320.00" y1="636.50" x2="320.00" y2="635.90" stroke="#222" stroke-width="0.8" />
<line x1="335.00" y1="636.50" x2="335.00" y2="635.50" stroke="#222" stroke-width="0.8" />
<line x1="159.40" y1="673.80" x2="159.40" y2="640.10" stroke="#000" stroke-width="1.0" />
<line x1="151.40" y1="673.80" x2="151.40" y2="672.80" stroke="#555" stroke-width="0.8" />
<line x1="160.40" y1="673.80" x2="160.40" y2="671.80" stroke="#333" stroke-width="0.8" />
<text x="40.00" y="690.90" font-size="15.2" fill="#111" >3’</text>
<text x="346.60" y="690.00" font-size="15.2" fill="#111" >5’</text>
<path d="M59.1,687.7 L59.1,696.9 L124.8,696.9 L124.8,681.4" stroke="#000" stroke-width="1.8" fill="none" stroke-linejoin="miter"/>
<path d="M124.8,681.2 L117.1,684.1 L124.8,686.6 Z" stroke="none" stroke-width="0" fill="#000" />
<rect x="56.20" y="681.10" width="6.40" height="6.40" fill="#fff" stroke="#333" stroke-width="0.9" rx="1.2"/>
<path d="M149.3,687.7 L149.3,696.9 L162.2,696.9 L162.2,681.2" stroke="#1a3fe0" stroke-width="1.8" fill="none" />
<path d="M162.9,681.0 L154.8,684.3 L162.9,687.4 Z" stroke="none" stroke-width="0" fill="#1a3fe0" />
<rect x="146.20" y="681.10" width="6.40" height="6.40" fill="#fff" stroke="#333" stroke-width="0.9" rx="1.2"/>
<path d="M172.3,687.7 L172.3,696.9 L330.9,696.9 L330.9,681.4" stroke="#000" stroke-width="1.8" fill="none" />
<path d="M330.9,681.2 L323.4,684.1 L330.9,686.8 Z" stroke="none" stroke-width="0" fill="#000" />
<rect x="169.10" y="681.10" width="6.40" height="6.40" fill="#fff" stroke="#333" stroke-width="0.9" rx="1.2"/>
<text x="36.00" y="716.20" font-size="11.1" fill="#111" >HG001_01350</text>
<text x="221.2" y="718.4" font-size="11.1" fill="#111">HG001_01351 (<tspan font-style="italic">pdp</tspan><tspan font-style="italic" font-size="7" dy="2.2">Sau</tspan><tspan dy="-2.2">)</tspan></text>
<line x1="158.70" y1="698.60" x2="122.60" y2="727.10" stroke="#111" stroke-width="1.5" stroke-dasharray="1.8,2.3"/>
<line x1="162.50" y1="698.60" x2="208.40" y2="727.50" stroke="#111" stroke-width="1.5" stroke-dasharray="1.8,2.3"/>
<line x1="39.40" y1="740.40" x2="39.40" y2="787.60" stroke="#555" stroke-width="0.9" />
<line x1="39.40" y1="740.80" x2="40.70" y2="740.80" stroke="#555" stroke-width="0.8" />
<line x1="39.40" y1="787.20" x2="40.70" y2="787.20" stroke="#555" stroke-width="0.8" />
<line x1="39.40" y1="796.50" x2="39.40" y2="842.90" stroke="#555" stroke-width="0.9" />
<line x1="39.40" y1="796.90" x2="40.70" y2="796.90" stroke="#555" stroke-width="0.8" />
<line x1="39.40" y1="842.50" x2="40.70" y2="842.50" stroke="#555" stroke-width="0.8" />
<text x="36.50" y="763.80" font-size="7.9" text-anchor="middle" fill="#333" transform="rotate(-90 36.50 763.80)" >2400 rpm</text>
<text x="36.50" y="819.70" font-size="7.9" text-anchor="middle" fill="#333" transform="rotate(-90 36.50 819.70)" >2000 rpm</text>
<text x="80.90" y="748.60" font-size="10.9" fill="#111" >+19 AUG</text>
<text x="77.20" y="758.60" font-size="11.0" fill="#111" >(+17GUG)</text>
<text x="82.40" y="804.50" font-size="10.8" font-weight="bold" fill="#1b3188" >+17 AUG</text>
<text x="275.80" y="775.60" font-size="9.45" fill="#222" >MNase Ribo-Ret (32-45 nt)</text>
<text x="275.80" y="829.60" font-size="9.45" fill="#222" >RNase 1 Ribo-Ret (32-45 nt)</text>
<line x1="140.50" y1="789.30" x2="140.50" y2="849.00" stroke="#222" stroke-width="0.9" stroke-dasharray="1,1.6"/>
<line x1="146.60" y1="789.30" x2="146.60" y2="849.00" stroke="#222" stroke-width="0.9" stroke-dasharray="1,1.6"/>
<line x1="153.30" y1="789.30" x2="153.30" y2="849.00" stroke="#222" stroke-width="0.9" stroke-dasharray="1,1.6"/>
<line x1="160.10" y1="789.30" x2="160.10" y2="849.00" stroke="#888" stroke-width="0.9" stroke-dasharray="1,1.6"/>
<line x1="153.30" y1="741.70" x2="153.30" y2="789.30" stroke="#222" stroke-width="0.9" stroke-dasharray="1,1.6"/>
<line x1="160.10" y1="741.70" x2="160.10" y2="789.30" stroke="#999" stroke-width="0.9" stroke-dasharray="1,1.6"/>
<rect x="140.00" y="742.00" width="7.00" height="47.30" fill="#000" stroke="none" stroke-width="1" />
<rect x="147.00" y="785.80" width="6.70" height="3.50" fill="#000" stroke="none" stroke-width="1" />
<rect x="153.70" y="787.00" width="6.40" height="2.30" fill="#000" stroke="none" stroke-width="1" />
<rect x="167.00" y="788.30" width="14.00" height="1.00" fill="#000" stroke="none" stroke-width="1" />
<rect x="193.00" y="788.50" width="7.00" height="0.80" fill="#000" stroke="none" stroke-width="1" />
<rect x="226.00" y="788.40" width="7.00" height="0.90" fill="#000" stroke="none" stroke-width="1" />
<line x1="44.90" y1="789.30" x2="340.90" y2="789.30" stroke="#888" stroke-width="1.0" />
<rect x="133.90" y="842.40" width="6.60" height="1.00" fill="#000" stroke="none" stroke-width="1" />
<rect x="140.50" y="835.90" width="6.10" height="7.50" fill="#000" stroke="none" stroke-width="1" />
<rect x="146.60" y="830.30" width="6.70" height="13.10" fill="#000" stroke="none" stroke-width="1" />
<rect x="153.30" y="796.10" width="6.80" height="47.30" fill="#000" stroke="none" stroke-width="1" />
<rect x="160.10" y="837.30" width="6.70" height="6.10" fill="#000" stroke="none" stroke-width="1" />
<rect x="166.80" y="841.20" width="7.00" height="2.20" fill="#000" stroke="none" stroke-width="1" />
<rect x="173.80" y="842.70" width="7.00" height="0.70" fill="#000" stroke="none" stroke-width="1" />
<rect x="200.00" y="842.20" width="6.20" height="1.20" fill="#000" stroke="none" stroke-width="1" />
<rect x="206.20" y="841.70" width="7.90" height="1.70" fill="#000" stroke="none" stroke-width="1" />
<rect x="219.70" y="842.00" width="7.50" height="1.40" fill="#000" stroke="none" stroke-width="1" />
<rect x="227.20" y="842.80" width="6.20" height="0.60" fill="#000" stroke="none" stroke-width="1" />
<line x1="44.90" y1="843.40" x2="340.90" y2="843.40" stroke="#888" stroke-width="1.0" />
<text x="40.10" y="859.20" font-size="15.2" fill="#111" >3’</text>
<text x="346.50" y="859.30" font-size="15.2" fill="#111" >5’</text>
<rect x="153.30" y="849.20" width="6.68" height="11.60" fill="#1a50e0" stroke="#aaa" stroke-width="0.6" />
<text x="156.64" y="857.90" font-size="7.2" text-anchor="middle" fill="#fff" >G</text>
<rect x="159.98" y="849.20" width="6.68" height="11.60" fill="#fff" stroke="#aaa" stroke-width="0.6" />
<text x="163.32" y="857.90" font-size="7.2" text-anchor="middle" fill="#999" >U</text>
<rect x="166.66" y="849.20" width="6.68" height="11.60" fill="#fff" stroke="#aaa" stroke-width="0.6" />
<text x="170.00" y="857.90" font-size="7.2" text-anchor="middle" fill="#999" >U</text>
<rect x="173.34" y="849.20" width="6.68" height="11.60" fill="#fff" stroke="#aaa" stroke-width="0.6" />
<text x="176.68" y="857.90" font-size="7.2" text-anchor="middle" fill="#999" >U</text>
<rect x="180.02" y="849.20" width="6.68" height="11.60" fill="#fff" stroke="#aaa" stroke-width="0.6" />
<text x="183.36" y="857.90" font-size="7.2" text-anchor="middle" fill="#999" >G</text>
<rect x="186.70" y="849.20" width="6.68" height="11.60" fill="#fff" stroke="#aaa" stroke-width="0.6" />
<text x="190.04" y="857.90" font-size="7.2" text-anchor="middle" fill="#999" >U</text>
<rect x="193.38" y="849.20" width="6.68" height="11.60" fill="#fff" stroke="#aaa" stroke-width="0.6" />
<text x="196.72" y="857.90" font-size="7.2" text-anchor="middle" fill="#999" >C</text>
<rect x="200.06" y="849.20" width="6.68" height="11.60" fill="#fff" stroke="#aaa" stroke-width="0.6" />
<text x="203.40" y="857.90" font-size="7.2" text-anchor="middle" fill="#999" >C</text>
<rect x="206.74" y="849.20" width="6.68" height="11.60" fill="#fff" stroke="#aaa" stroke-width="0.6" />
<text x="210.08" y="857.90" font-size="7.2" text-anchor="middle" fill="#999" >U</text>
<rect x="213.42" y="849.20" width="6.68" height="11.60" fill="#fff" stroke="#aaa" stroke-width="0.6" />
<text x="216.76" y="857.90" font-size="7.2" text-anchor="middle" fill="#999" >G</text>
<rect x="220.10" y="849.20" width="6.68" height="11.60" fill="#fff" stroke="#aaa" stroke-width="0.6" />
<text x="223.44" y="857.90" font-size="7.2" text-anchor="middle" fill="#999" >A</text>
<rect x="226.78" y="849.20" width="6.68" height="11.60" fill="#fff" stroke="#aaa" stroke-width="0.6" />
<text x="230.12" y="857.90" font-size="7.2" text-anchor="middle" fill="#999" >G</text>
<rect x="233.46" y="849.20" width="6.68" height="11.60" fill="#fff" stroke="#aaa" stroke-width="0.6" />
<text x="236.80" y="857.90" font-size="7.2" text-anchor="middle" fill="#333" >G</text>
<rect x="240.14" y="849.20" width="6.68" height="11.60" fill="#fff" stroke="#aaa" stroke-width="0.6" />
<text x="243.48" y="857.90" font-size="7.2" text-anchor="middle" fill="#333" >U</text>
<rect x="246.82" y="849.20" width="6.68" height="11.60" fill="#fff" stroke="#aaa" stroke-width="0.6" />
<text x="250.16" y="857.90" font-size="7.2" text-anchor="middle" fill="#2a50e0" >G</text>
<rect x="253.50" y="849.20" width="6.68" height="11.60" fill="#fff" stroke="#aaa" stroke-width="0.6" />
<text x="256.84" y="857.90" font-size="7.2" text-anchor="middle" fill="#2a50e0" >U</text>
<rect x="260.18" y="849.20" width="6.68" height="11.60" fill="#fff" stroke="#aaa" stroke-width="0.6" />
<text x="263.52" y="857.90" font-size="7.2" text-anchor="middle" fill="#2a50e0" >A</text>
<rect x="140.00" y="860.80" width="6.60" height="12.50" fill="#000" stroke="#888" stroke-width="0.6" />
<text x="143.30" y="869.80" font-size="7.2" text-anchor="middle" fill="#fff" >G</text>
<rect x="146.60" y="860.80" width="6.70" height="12.50" fill="#fff" stroke="#aaa" stroke-width="0.6" />
<text x="149.95" y="869.80" font-size="7.2" text-anchor="middle" fill="#999" >C</text>
<text x="85.1" y="889.0" font-size="10.05" fill="#999"><tspan fill="#333">3’- </tspan>AA<tspan font-weight="bold" fill="#222" text-decoration="underline">G</tspan>C<tspan font-weight="bold" fill="#2a4fe0" text-decoration="underline">G</tspan>UUUGUCCUGAG<tspan fill="#333" text-decoration="underline">GU</tspan><tspan fill="#2a4fe0" text-decoration="underline">GUA</tspan>UUUUUAGUU<tspan font-weight="bold" fill="#2a1a1a">GAGG</tspan><tspan fill="#555">AA</tspan><tspan fill="#333"> -5’</tspan></text>
<line x1="147.50" y1="900.60" x2="236.20" y2="900.60" stroke="#111" stroke-width="1.3" />
<path d="M142.6,900.6 L149.8,897.5 L149.8,903.7 Z" stroke="#111" stroke-width="1.1" fill="#fff" />
<text x="117.40" y="904.20" font-size="11" fill="#2a4fe0" >+17</text>
<text x="240.50" y="904.20" font-size="11" fill="#2a4fe0" >+1</text>
<text x="427.50" y="524.10" font-size="21.5" >F</text>
<text x="546.10" y="524.80" font-size="10.5" text-anchor="middle" fill="#111" >sORF category distribution</text>
<path d="M546.6,607.4 L546.60,555.10 A52.3,52.3 0 0 1 579.61,566.83 Z" stroke="#222" stroke-width="0.7" fill="#523db5" stroke-linejoin="round"/>
<path d="M546.6,607.4 L579.61,566.83 A52.3,52.3 0 0 1 598.78,610.97 Z" stroke="#222" stroke-width="0.7" fill="#8fbce4" stroke-linejoin="round"/>
<path d="M546.6,607.4 L598.78,610.97 A52.3,52.3 0 0 1 567.44,655.37 Z" stroke="#222" stroke-width="0.7" fill="#ab53c8" stroke-linejoin="round"/>
<path d="M546.6,607.4 L567.44,655.37 A52.3,52.3 0 0 1 508.38,643.10 Z" stroke="#222" stroke-width="0.7" fill="#656565" stroke-linejoin="round"/>
<path d="M546.6,607.4 L508.38,643.10 A52.3,52.3 0 0 1 546.60,555.10 Z" stroke="#222" stroke-width="0.7" fill="#fde356" stroke-linejoin="round"/>
<text x="573.50" y="547.30" font-size="9.6" text-anchor="middle" fill="#111" >STAR (5)</text>
<text x="618.00" y="569.60" font-size="9.6" text-anchor="middle" fill="#111" >sRNA-</text>
<text x="618.00" y="579.20" font-size="9.6" text-anchor="middle" fill="#111" >overlap</text>
<text x="618.00" y="588.90" font-size="9.6" text-anchor="middle" fill="#111" >(7)</text>
<text x="480.00" y="573.10" font-size="9.6" text-anchor="middle" fill="#111" >uORF</text>
<text x="480.00" y="582.60" font-size="9.6" text-anchor="middle" fill="#111" >(17)</text>
<text x="618.00" y="638.70" font-size="9.6" text-anchor="middle" fill="#111" >dORF</text>
<text x="618.00" y="648.80" font-size="9.6" text-anchor="middle" fill="#111" >(8)</text>
<text x="521.20" y="677.40" font-size="9.7" text-anchor="middle" fill="#111" >intergenic (9)</text>
<text x="427.80" y="711.20" font-size="21.5" >G</text>
<text x="567.80" y="722.80" font-size="10.55" text-anchor="middle" fill="#111" >sORF length distribution by category</text>
<line x1="505.90" y1="739.40" x2="505.90" y2="867.50" stroke="#111" stroke-width="1.4" />
<line x1="505.20" y1="866.80" x2="656.40" y2="866.80" stroke="#111" stroke-width="1.4" />
<line x1="500.90" y1="756.00" x2="505.90" y2="756.00" stroke="#111" stroke-width="1.2" />
<text x="499.00" y="758.70" font-size="7.85" text-anchor="end" font-weight="bold" fill="#111" >intergenic</text>
<line x1="500.90" y1="779.80" x2="505.90" y2="779.80" stroke="#111" stroke-width="1.2" />
<text x="499.00" y="782.50" font-size="7.85" text-anchor="end" font-weight="bold" fill="#111" >dORF</text>
<line x1="500.90" y1="803.80" x2="505.90" y2="803.80" stroke="#111" stroke-width="1.2" />
<text x="499.00" y="806.50" font-size="7.85" text-anchor="end" font-weight="bold" fill="#111" >sRNA-overlap</text>
<line x1="500.90" y1="827.80" x2="505.90" y2="827.80" stroke="#111" stroke-width="1.2" />
<text x="499.00" y="830.50" font-size="7.85" text-anchor="end" font-weight="bold" fill="#111" >uORF</text>
<line x1="500.90" y1="851.40" x2="505.90" y2="851.40" stroke="#111" stroke-width="1.2" />
<text x="499.00" y="854.10" font-size="7.85" text-anchor="end" font-weight="bold" fill="#111" >STAR</text>
<line x1="538.90" y1="866.80" x2="538.90" y2="870.80" stroke="#111" stroke-width="1.2" />
<text x="538.90" y="883.60" font-size="8.6" text-anchor="middle" font-weight="bold" fill="#111" >0</text>
<line x1="572.55" y1="866.80" x2="572.55" y2="870.80" stroke="#111" stroke-width="1.2" />
<text x="572.55" y="883.60" font-size="8.6" text-anchor="middle" font-weight="bold" fill="#111" >20</text>
<line x1="606.20" y1="866.80" x2="606.20" y2="870.80" stroke="#111" stroke-width="1.2" />
<text x="606.20" y="883.60" font-size="8.6" text-anchor="middle" font-weight="bold" fill="#111" >40</text>
<line x1="639.85" y1="866.80" x2="639.85" y2="870.80" stroke="#111" stroke-width="1.2" />
<text x="639.85" y="883.60" font-size="8.6" text-anchor="middle" font-weight="bold" fill="#111" >60</text>
<text x="581.40" y="899.20" font-size="8.3" text-anchor="middle" font-weight="bold" fill="#111" >sORF length (amino acids)</text>
<path d="M551.93,755.67 C552.63,755.66 554.71,755.65 556.10,755.60 C557.48,755.56 558.64,755.68 560.26,755.40 C561.87,755.11 563.72,754.59 565.80,753.87 C567.88,753.15 570.66,751.90 572.74,751.10 C574.82,750.29 576.44,749.48 578.29,749.02 C580.14,748.55 581.75,748.44 583.83,748.32 C585.92,748.21 588.69,748.16 590.77,748.32 C592.85,748.48 594.70,748.83 596.32,749.29 C597.94,749.75 599.09,750.49 600.48,751.10 C601.87,751.70 603.25,752.44 604.64,752.90 C606.03,753.36 607.41,753.64 608.80,753.87 C610.19,754.10 611.46,754.29 612.96,754.29 C614.46,754.29 616.20,753.82 617.82,753.87 C619.43,753.92 620.94,754.31 622.67,754.56 C624.40,754.82 626.60,755.22 628.22,755.40 C629.84,755.57 631.22,755.56 632.38,755.60 C633.53,755.65 634.69,755.66 635.15,755.67 L635.15,756.23 C634.69,756.24 633.53,756.25 632.38,756.30 C631.22,756.34 629.84,756.33 628.22,756.50 C626.60,756.68 624.40,757.08 622.67,757.34 C620.94,757.59 619.43,757.98 617.82,758.03 C616.20,758.08 614.46,757.61 612.96,757.61 C611.46,757.61 610.19,757.80 608.80,758.03 C607.41,758.26 606.03,758.54 604.64,759.00 C603.25,759.46 601.87,760.20 600.48,760.80 C599.09,761.41 597.94,762.15 596.32,762.61 C594.70,763.07 592.85,763.42 590.77,763.58 C588.69,763.74 585.92,763.69 583.83,763.58 C581.75,763.46 580.14,763.35 578.29,762.88 C576.44,762.42 574.82,761.61 572.74,760.80 C570.66,760.00 567.88,758.75 565.80,758.03 C563.72,757.31 561.87,756.79 560.26,756.50 C558.64,756.22 557.48,756.34 556.10,756.30 C554.71,756.25 552.63,756.24 551.93,756.23 Z" stroke="#1a1a1a" stroke-width="0.95" fill="#808080" stroke-linejoin="round"/>
<line x1="589.66" y1="748.92" x2="589.66" y2="762.98" stroke="#222" stroke-width="0.7" stroke-dasharray="1,1.2"/>
<line x1="600.48" y1="751.70" x2="600.48" y2="760.20" stroke="#222" stroke-width="0.7" stroke-dasharray="1,1.2"/>
<circle cx="569.27" cy="755.95" r="1.85" fill="#000" stroke="none" stroke-width="1" />
<circle cx="579.40" cy="753.45" r="1.85" fill="#000" stroke="none" stroke-width="1" />
<circle cx="581.34" cy="758.31" r="1.85" fill="#000" stroke="none" stroke-width="1" />
<circle cx="585.92" cy="755.95" r="1.85" fill="#000" stroke="none" stroke-width="1" />
<circle cx="588.00" cy="755.95" r="1.85" fill="#000" stroke="none" stroke-width="1" />
<circle cx="589.66" cy="755.95" r="1.85" fill="#000" stroke="none" stroke-width="1" />
<circle cx="594.24" cy="753.45" r="1.85" fill="#000" stroke="none" stroke-width="1" />
<circle cx="596.32" cy="758.31" r="1.85" fill="#000" stroke="none" stroke-width="1" />
<circle cx="604.36" cy="755.95" r="1.85" fill="#000" stroke="none" stroke-width="1" />
<circle cx="617.82" cy="755.95" r="1.85" fill="#000" stroke="none" stroke-width="1" />
<path d="M542.78,779.67 C543.61,779.66 546.02,779.64 547.77,779.60 C549.53,779.55 551.47,779.61 553.32,779.39 C555.17,779.17 556.79,778.83 558.87,778.28 C560.95,777.73 563.49,776.75 565.80,776.06 C568.12,775.37 570.89,774.51 572.74,774.12 C574.59,773.73 575.51,773.66 576.90,773.70 C578.29,773.75 579.44,773.87 581.06,774.40 C582.68,774.93 584.76,776.20 586.61,776.89 C588.46,777.59 590.31,778.23 592.16,778.56 C594.01,778.88 595.86,778.93 597.70,778.83 C599.55,778.74 601.40,778.33 603.25,778.00 C605.10,777.68 606.95,777.15 608.80,776.89 C610.65,776.64 612.50,776.48 614.35,776.48 C616.20,776.48 618.05,776.64 619.90,776.89 C621.75,777.15 623.59,777.63 625.44,778.00 C627.29,778.37 629.14,778.85 630.99,779.11 C632.84,779.38 634.46,779.51 636.54,779.60 C638.62,779.69 642.32,779.66 643.47,779.67 L643.47,780.22 C642.32,780.23 638.62,780.20 636.54,780.29 C634.46,780.38 632.84,780.51 630.99,780.78 C629.14,781.04 627.29,781.52 625.44,781.89 C623.59,782.26 621.75,782.74 619.90,783.00 C618.05,783.25 616.20,783.41 614.35,783.41 C612.50,783.41 610.65,783.25 608.80,783.00 C606.95,782.74 605.10,782.21 603.25,781.89 C601.40,781.56 599.55,781.15 597.70,781.05 C595.86,780.96 594.01,781.01 592.16,781.33 C590.31,781.66 588.46,782.30 586.61,783.00 C584.76,783.69 582.68,784.96 581.06,785.49 C579.44,786.02 578.29,786.14 576.90,786.19 C575.51,786.23 574.59,786.16 572.74,785.77 C570.89,785.38 568.12,784.52 565.80,783.83 C563.49,783.13 560.95,782.16 558.87,781.61 C556.79,781.05 555.17,780.72 553.32,780.50 C551.47,780.28 549.53,780.34 547.77,780.29 C546.02,780.25 543.61,780.23 542.78,780.22 Z" stroke="#1a1a1a" stroke-width="0.95" fill="#c77bd6" stroke-linejoin="round"/>
<line x1="575.79" y1="774.41" x2="575.79" y2="785.47" stroke="#222" stroke-width="0.7" stroke-dasharray="1,1.2"/>
<circle cx="567.47" cy="779.94" r="1.85" fill="#000" stroke="none" stroke-width="1" />
<circle cx="574.13" cy="777.17" r="1.85" fill="#000" stroke="none" stroke-width="1" />
<circle cx="577.59" cy="777.17" r="1.85" fill="#000" stroke="none" stroke-width="1" />
<circle cx="575.79" cy="782.30" r="1.85" fill="#000" stroke="none" stroke-width="1" />
<circle cx="578.98" cy="782.30" r="1.85" fill="#000" stroke="none" stroke-width="1" />
<circle cx="604.36" cy="779.94" r="1.85" fill="#000" stroke="none" stroke-width="1" />
<circle cx="614.35" cy="779.94" r="1.85" fill="#000" stroke="none" stroke-width="1" />
<circle cx="619.62" cy="779.94" r="1.85" fill="#000" stroke="none" stroke-width="1" />
<path d="M543.32,803.10 C544.48,803.07 548.18,803.14 550.26,802.96 C552.34,802.77 554.07,801.99 555.80,801.99 C557.54,801.99 559.04,802.77 560.66,802.96 C562.28,803.14 562.85,803.07 565.51,803.10 C568.17,803.12 574.07,803.23 576.61,803.10 C579.15,802.96 579.38,802.56 580.77,802.26 C582.16,801.96 583.31,801.92 584.93,801.29 C586.55,800.67 588.63,799.44 590.48,798.52 C592.33,797.59 594.18,795.86 596.03,795.74 C597.88,795.63 599.96,797.02 601.57,797.83 C603.19,798.63 604.35,799.81 605.74,800.60 C607.12,801.39 608.39,802.12 609.90,802.54 C611.40,802.96 613.94,803.00 614.75,803.10 L614.75,803.65 C613.94,803.74 611.40,803.79 609.90,804.21 C608.39,804.62 607.12,805.36 605.74,806.15 C604.35,806.93 603.19,808.11 601.57,808.92 C599.96,809.73 597.88,811.12 596.03,811.00 C594.18,810.89 592.33,809.15 590.48,808.23 C588.63,807.30 586.55,806.08 584.93,805.45 C583.31,804.83 582.16,804.78 580.77,804.48 C579.38,804.18 579.15,803.79 576.61,803.65 C574.07,803.51 568.17,803.63 565.51,803.65 C562.85,803.67 562.28,803.60 560.66,803.79 C559.04,803.97 557.54,804.76 555.80,804.76 C554.07,804.76 552.34,803.97 550.26,803.79 C548.18,803.60 544.48,803.67 543.32,803.65 Z" stroke="#1a1a1a" stroke-width="0.95" fill="#a9cbef" stroke-linejoin="round"/>
<line x1="596.03" y1="796.34" x2="596.03" y2="810.40" stroke="#222" stroke-width="0.7" stroke-dasharray="1,1.2"/>
<circle cx="555.53" cy="803.37" r="1.85" fill="#000" stroke="none" stroke-width="1" />
<circle cx="583.82" cy="803.10" r="1.85" fill="#000" stroke="none" stroke-width="1" />
<circle cx="592.56" cy="803.37" r="1.85" fill="#000" stroke="none" stroke-width="1" />
<circle cx="596.30" cy="798.24" r="1.85" fill="#000" stroke="none" stroke-width="1" />
<circle cx="596.72" cy="803.37" r="1.85" fill="#000" stroke="none" stroke-width="1" />
<circle cx="598.11" cy="808.64" r="1.85" fill="#000" stroke="none" stroke-width="1" />
<circle cx="602.96" cy="803.37" r="1.85" fill="#000" stroke="none" stroke-width="1" />
<path d="M539.16,826.95 C539.85,826.56 541.70,825.56 543.32,824.59 C544.94,823.62 547.02,821.94 548.87,821.13 C550.72,820.32 552.57,819.85 554.42,819.74 C556.27,819.62 558.12,820.09 559.97,820.43 C561.81,820.78 563.66,821.47 565.51,821.82 C567.36,822.17 569.21,822.28 571.06,822.51 C572.91,822.74 574.53,822.98 576.61,823.21 C578.69,823.44 581.23,823.62 583.54,823.90 C585.86,824.18 588.40,824.52 590.48,824.87 C592.56,825.22 594.18,825.70 596.03,825.98 C597.88,826.26 599.72,826.40 601.57,826.54 C603.42,826.67 605.27,826.81 607.12,826.81 C608.97,826.81 610.82,826.54 612.67,826.54 C614.52,826.54 616.14,826.74 618.22,826.81 C620.30,826.88 622.84,826.92 625.15,826.95 C627.46,826.99 629.78,827.00 632.09,827.02 C634.40,827.04 637.87,827.08 639.02,827.09 L639.02,827.64 C637.87,827.66 634.40,827.69 632.09,827.71 C629.78,827.74 627.46,827.75 625.15,827.78 C622.84,827.82 620.30,827.85 618.22,827.92 C616.14,827.99 614.52,828.20 612.67,828.20 C610.82,828.20 608.97,827.92 607.12,827.92 C605.27,827.92 603.42,828.06 601.57,828.20 C599.72,828.34 597.88,828.48 596.03,828.75 C594.18,829.03 592.56,829.52 590.48,829.86 C588.40,830.21 585.86,830.56 583.54,830.83 C581.23,831.11 578.69,831.30 576.61,831.53 C574.53,831.76 572.91,831.99 571.06,832.22 C569.21,832.45 567.36,832.57 565.51,832.92 C563.66,833.26 561.81,833.96 559.97,834.30 C558.12,834.65 556.27,835.11 554.42,835.00 C552.57,834.88 550.72,834.42 548.87,833.61 C547.02,832.80 544.94,831.11 543.32,830.14 C541.70,829.17 539.85,828.18 539.16,827.78 Z" stroke="#1a1a1a" stroke-width="0.95" fill="#f9e461" stroke-linejoin="round"/>
<line x1="557.19" y1="820.69" x2="557.19" y2="834.05" stroke="#222" stroke-width="0.7" stroke-dasharray="1,1.2"/>
<circle cx="552.75" cy="822.51" r="1.85" fill="#000" stroke="none" stroke-width="1" />
<circle cx="557.88" cy="822.51" r="1.85" fill="#000" stroke="none" stroke-width="1" />
<circle cx="560.66" cy="825.01" r="1.85" fill="#000" stroke="none" stroke-width="1" />
<circle cx="552.34" cy="827.78" r="1.85" fill="#000" stroke="none" stroke-width="1" />
<circle cx="557.88" cy="827.78" r="1.85" fill="#000" stroke="none" stroke-width="1" />
<circle cx="561.35" cy="829.73" r="1.85" fill="#000" stroke="none" stroke-width="1" />
<circle cx="552.75" cy="832.92" r="1.85" fill="#000" stroke="none" stroke-width="1" />
<circle cx="557.88" cy="832.92" r="1.85" fill="#000" stroke="none" stroke-width="1" />
<circle cx="567.59" cy="827.78" r="1.85" fill="#000" stroke="none" stroke-width="1" />
<circle cx="572.73" cy="822.24" r="1.85" fill="#000" stroke="none" stroke-width="1" />
<circle cx="574.53" cy="827.78" r="1.85" fill="#000" stroke="none" stroke-width="1" />
<circle cx="572.73" cy="832.92" r="1.85" fill="#000" stroke="none" stroke-width="1" />
<circle cx="582.85" cy="827.78" r="1.85" fill="#000" stroke="none" stroke-width="1" />
<circle cx="584.24" cy="832.92" r="1.85" fill="#000" stroke="none" stroke-width="1" />
<circle cx="587.70" cy="827.78" r="1.85" fill="#000" stroke="none" stroke-width="1" />
<circle cx="600.19" cy="827.78" r="1.85" fill="#000" stroke="none" stroke-width="1" />
<circle cx="619.60" cy="827.78" r="1.85" fill="#000" stroke="none" stroke-width="1" />
<path d="M539.23,846.75 C539.26,846.75 538.14,846.81 539.40,846.75 C540.66,846.69 544.16,846.33 546.79,846.42 C549.42,846.50 552.38,846.75 555.18,847.25 C557.98,847.76 560.78,848.93 563.57,849.44 C566.37,849.94 569.45,850.22 571.97,850.28 C574.49,850.33 576.44,850.28 578.68,849.77 C580.92,849.27 583.16,848.09 585.40,847.25 C587.64,846.42 589.87,845.30 592.11,844.74 C594.35,844.18 596.59,843.90 598.83,843.90 C601.06,843.90 603.02,844.18 605.54,844.74 C608.06,845.30 611.14,846.42 613.93,847.25 C616.73,848.09 619.53,849.16 622.33,849.77 C625.13,850.39 627.92,850.72 630.72,850.95 C633.52,851.17 637.72,851.09 639.12,851.12 L639.12,851.79 C637.72,851.81 633.52,851.73 630.72,851.95 C627.92,852.18 625.13,852.51 622.33,853.13 C619.53,853.75 616.73,854.81 613.93,855.65 C611.14,856.49 608.06,857.61 605.54,858.17 C603.02,858.73 601.06,859.01 598.83,859.01 C596.59,859.01 594.35,858.73 592.11,858.17 C589.87,857.61 587.64,856.49 585.40,855.65 C583.16,854.81 580.92,853.63 578.68,853.13 C576.44,852.63 574.49,852.57 571.97,852.63 C569.45,852.68 566.37,852.96 563.57,853.47 C560.78,853.97 557.98,855.14 555.18,855.65 C552.38,856.15 549.42,856.40 546.79,856.49 C544.16,856.57 540.66,856.21 539.40,856.15 C538.14,856.10 539.26,856.15 539.23,856.15 Z" stroke="#1a1a1a" stroke-width="0.95" fill="#8071d6" stroke-linejoin="round"/>
<line x1="596.31" y1="844.81" x2="596.31" y2="858.09" stroke="#222" stroke-width="0.7" stroke-dasharray="1,1.2"/>
<circle cx="547.63" cy="848.77" r="1.85" fill="#000" stroke="none" stroke-width="1" />
<circle cx="547.63" cy="853.97" r="1.85" fill="#000" stroke="none" stroke-width="1" />
<circle cx="596.31" cy="851.45" r="1.85" fill="#000" stroke="none" stroke-width="1" />
<circle cx="601.34" cy="848.77" r="1.85" fill="#000" stroke="none" stroke-width="1" />
<circle cx="601.34" cy="853.97" r="1.85" fill="#000" stroke="none" stroke-width="1" />
</svg>
</body></html>
